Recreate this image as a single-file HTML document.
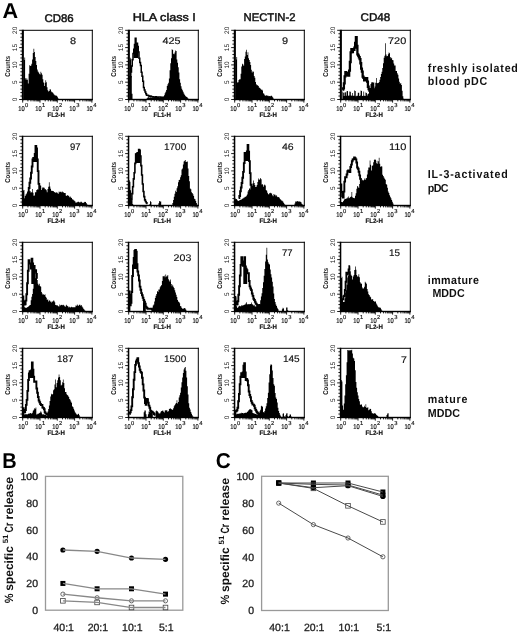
<!DOCTYPE html><html><head><meta charset="utf-8"><style>html,body{margin:0;padding:0;background:#fff;}svg{display:block;will-change:transform;text-rendering:geometricPrecision}</style></head><body>
<svg width="520" height="635" viewBox="0 0 520 635" font-family="Liberation Sans, sans-serif">
<rect width="520" height="635" fill="#fff"/>
<text x="2.6" y="18" font-size="21.6" font-weight="bold" fill="#000">A</text>
<text x="44.40" y="21.8" font-size="11.2" fill="#111" stroke="#111" stroke-width="0.45" textLength="29.30" lengthAdjust="spacingAndGlyphs">CD86</text>
<text x="132.70" y="21.4" font-size="11.2" fill="#111" stroke="#111" stroke-width="0.45" textLength="63.20" lengthAdjust="spacingAndGlyphs">HLA class I</text>
<text x="243.50" y="21.1" font-size="11.2" fill="#111" stroke="#111" stroke-width="0.45" textLength="52.00" lengthAdjust="spacingAndGlyphs">NECTIN-2</text>
<text x="360.50" y="20.9" font-size="11.2" fill="#111" stroke="#111" stroke-width="0.45" textLength="29.80" lengthAdjust="spacingAndGlyphs">CD48</text>
<text x="427.80" y="72.3" font-size="11.6" font-weight="bold" transform="translate(427.80,0) scale(0.92,1) translate(-427.80,0)" textLength="97.93" lengthAdjust="spacing" fill="#111">freshly isolated</text>
<text x="427.80" y="84.8" font-size="11.6" font-weight="bold" transform="translate(427.80,0) scale(0.92,1) translate(-427.80,0)" textLength="64.57" lengthAdjust="spacing" fill="#111">blood pDC</text>
<text x="427.80" y="177.7" font-size="11.6" font-weight="bold" transform="translate(427.80,0) scale(0.92,1) translate(-427.80,0)" textLength="86.85" lengthAdjust="spacing" fill="#111">IL-3-activated</text>
<text x="427.80" y="191.5" font-size="11.6" font-weight="bold" transform="translate(427.80,0) scale(0.92,1) translate(-427.80,0)" textLength="22.39" lengthAdjust="spacing" fill="#111">pDC</text>
<text x="427.80" y="283.8" font-size="11.6" font-weight="bold" transform="translate(427.80,0) scale(0.92,1) translate(-427.80,0)" textLength="55.54" lengthAdjust="spacing" fill="#111">immature</text>
<text x="432.40" y="297" font-size="11.6" font-weight="bold" transform="translate(432.40,0) scale(0.92,1) translate(-432.40,0)" textLength="35.00" lengthAdjust="spacing" fill="#111">MDDC</text>
<text x="427.80" y="403.2" font-size="11.6" font-weight="bold" transform="translate(427.80,0) scale(0.92,1) translate(-427.80,0)" textLength="43.04" lengthAdjust="spacing" fill="#111">mature</text>
<text x="427.80" y="416.5" font-size="11.6" font-weight="bold" transform="translate(427.80,0) scale(0.92,1) translate(-427.80,0)" textLength="34.89" lengthAdjust="spacing" fill="#111">MDDC</text>
<g><path d="M23.70,99.50V59.95H24.40V57.47H25.10V78.21H25.80V79.67H26.50V78.37H27.20V79.65H27.90V83.53H28.60V73.71H29.30V65.17H30.00V65.96H30.70V65.59H31.40V63.87H32.10V59.44H32.80V53.00H33.50V48.63H34.20V52.05H34.90V56.89H35.60V60.96H36.30V65.12H37.00V69.60H37.70V71.62H38.40V72.49H39.10V73.64H39.80V74.43H40.50V71.83H41.20V73.27H41.90V74.73H42.60V79.33H43.30V82.62H44.00V85.90H44.70V82.80H45.40V80.16H46.10V82.15H46.80V87.15H47.50V90.36H48.20V91.52H48.90V91.09H49.60V89.29H50.30V89.47H51.00V91.43H51.70V92.19H52.40V92.38H53.10V93.52H53.80V94.43H54.50V95.13H55.20V95.60H55.90V95.49H56.60V95.97H57.30V97.37H58.00V98.55H58.70V99.50Z" fill="#000"/><rect x="21.8" y="29.8" width="2.1" height="70.4" fill="#000"/><rect x="22" y="29.8" width="70.8" height="1" fill="#000"/><rect x="91.8" y="29.8" width="1" height="70.4" fill="#000"/><rect x="22" y="98.8" width="70.8" height="1.4" fill="#000"/><path d="M19.20,99.50H22M20.40,96.04H22M20.40,92.58H22M20.40,89.12H22M20.40,85.66H22M19.20,82.20H22M20.40,78.74H22M20.40,75.28H22M20.40,71.82H22M20.40,68.36H22M19.20,64.90H22M20.40,61.44H22M20.40,57.98H22M20.40,54.52H22M20.40,51.06H22M19.20,47.60H22M20.40,44.14H22M20.40,40.68H22M20.40,37.22H22M20.40,33.76H22M19.20,30.30H22M22.70,100V102.60M27.91,100V101.40M30.95,100V101.40M33.12,100V101.40M34.79,100V101.40M36.16,100V101.40M37.32,100V101.40M38.32,100V101.40M39.21,100V101.40M40.00,100V102.60M45.21,100V101.40M48.25,100V101.40M50.42,100V101.40M52.09,100V101.40M53.46,100V101.40M54.62,100V101.40M55.62,100V101.40M56.51,100V101.40M57.30,100V102.60M62.51,100V101.40M65.55,100V101.40M67.72,100V101.40M69.39,100V101.40M70.76,100V101.40M71.92,100V101.40M72.92,100V101.40M73.81,100V101.40M74.60,100V102.60M79.81,100V101.40M82.85,100V101.40M85.02,100V101.40M86.69,100V101.40M88.06,100V101.40M89.22,100V101.40M90.22,100V101.40M91.11,100V101.40M91.90,100V102.60" stroke="#000" stroke-width="0.9" fill="none"/><text transform="translate(16.8,99.50) rotate(-90)" text-anchor="middle" font-size="6.5" fill="#111">0</text><text transform="translate(16.8,82.20) rotate(-90)" text-anchor="middle" font-size="6.5" fill="#111">5</text><text transform="translate(16.8,64.90) rotate(-90)" text-anchor="middle" font-size="6.5" fill="#111">10</text><text transform="translate(16.8,47.60) rotate(-90)" text-anchor="middle" font-size="6.5" fill="#111">15</text><text transform="translate(16.8,30.30) rotate(-90)" text-anchor="middle" font-size="6.5" fill="#111">20</text><text transform="translate(9.8,66.4) rotate(-90)" text-anchor="middle" font-size="7" font-weight="bold" textLength="20.8" lengthAdjust="spacingAndGlyphs" fill="#111">Counts</text><text x="24.60" y="110.7" text-anchor="end" font-size="7" fill="#111" stroke="#111" stroke-width="0.2" textLength="6.4" lengthAdjust="spacingAndGlyphs">10</text><text x="25.00" y="106.5" font-size="5.8" fill="#111" stroke="#111" stroke-width="0.15">0</text><text x="41.65" y="110.7" text-anchor="end" font-size="7" fill="#111" stroke="#111" stroke-width="0.2" textLength="6.4" lengthAdjust="spacingAndGlyphs">10</text><text x="42.05" y="106.5" font-size="5.8" fill="#111" stroke="#111" stroke-width="0.15">1</text><text x="58.70" y="110.7" text-anchor="end" font-size="7" fill="#111" stroke="#111" stroke-width="0.2" textLength="6.4" lengthAdjust="spacingAndGlyphs">10</text><text x="59.10" y="106.5" font-size="5.8" fill="#111" stroke="#111" stroke-width="0.15">2</text><text x="75.75" y="110.7" text-anchor="end" font-size="7" fill="#111" stroke="#111" stroke-width="0.2" textLength="6.4" lengthAdjust="spacingAndGlyphs">10</text><text x="76.15" y="106.5" font-size="5.8" fill="#111" stroke="#111" stroke-width="0.15">3</text><text x="92.80" y="110.7" text-anchor="end" font-size="7" fill="#111" stroke="#111" stroke-width="0.2" textLength="6.4" lengthAdjust="spacingAndGlyphs">10</text><text x="93.20" y="106.5" font-size="5.8" fill="#111" stroke="#111" stroke-width="0.15">4</text><text x="47.5" y="116.7" font-size="6.5" font-weight="bold" stroke="#111" stroke-width="0.2" textLength="17.3" lengthAdjust="spacingAndGlyphs" fill="#111">FL2-H</text><text x="69.90" y="43.60" font-size="9.6" fill="#111" stroke="#111" stroke-width="0.15" textLength="6.10" lengthAdjust="spacingAndGlyphs">8</text></g>
<g><path d="M129.70,99.50V59.62H130.40V57.76H131.10V76.12H131.80V93.79H132.50V99.09H133.20V99.50ZM145.80,99.50V99.32H146.50V98.57H147.20V97.83H147.90V96.92H148.60V97.45H149.30V97.56H150.00V97.32H150.70V97.50H151.40V97.68H152.10V97.28H152.80V97.22H153.50V97.21H154.20V96.68H154.90V96.70H155.60V96.95H156.30V97.25H157.00V97.63H157.70V97.51H158.40V97.49H159.10V97.47H159.80V97.17H160.50V97.29H161.20V97.31H161.90V97.32H162.60V96.77H163.30V96.52H164.00V95.30H164.70V93.24H165.40V91.81H166.10V89.89H166.80V85.97H167.50V84.23H168.20V82.67H168.90V78.38H169.60V70.24H170.30V63.20H171.00V58.32H171.70V49.30H172.40V50.09H173.10V53.63H173.80V54.30H174.50V52.59H175.20V50.48H175.90V50.88H176.60V59.48H177.30V62.69H178.00V67.14H178.70V72.46H179.40V79.14H180.10V82.84H180.80V86.14H181.50V88.81H182.20V90.31H182.90V91.71H183.60V93.52H184.30V94.74H185.00V95.63H185.70V96.45H186.40V96.97H187.10V97.58H187.80V98.38H188.50V99.28H189.20V99.50Z" fill="#000"/><clipPath id="cp01"><rect x="133.5" y="30" width="5.0" height="28"/></clipPath><path d="M128.50,88.65H129.25V82.06H130.00V76.82H130.75V72.12H131.50V65.88H132.25V59.76H133.00V53.47H133.75V49.34H134.50V44.57H135.25V38.23H136.00V46.31H136.75V43.25H137.50V46.44H138.25V52.02H139.00V58.37H139.75V62.54H140.50V65.40H141.25V72.34H142.00V76.18H142.75V81.36H143.50V87.48H144.25V89.96H145.00V91.89H145.75V93.68H146.50V95.21H147.25V95.36H148.00V95.56H148.75V95.91H149.50V96.31H150.25V96.11H151.00V96.56H151.75V96.68H152.50V96.67H153.25V96.93H154.00V97.05H154.75V97.01H155.50V96.82H156.25V97.20H157.00V97.12H157.75V97.20H158.50V96.89H159.25V97.03H160.00V97.02H160.75V97.38H161.50V97.27H162.25V97.30H163.00V97.47H163.75V99.5H128.5Z" fill="#000" clip-path="url(#cp01)"/><path d="M128.50,88.65H129.25V82.06H130.00V76.82H130.75V72.12H131.50V65.88H132.25V59.76H133.00V53.47H133.75V49.34H134.50V44.57H135.25V38.23H136.00V46.31H136.75V43.25H137.50V46.44H138.25V52.02H139.00V58.37H139.75V62.54H140.50V65.40H141.25V72.34H142.00V76.18H142.75V81.36H143.50V87.48H144.25V89.96H145.00V91.89H145.75V93.68H146.50V95.21H147.25V95.36H148.00V95.56H148.75V95.91H149.50V96.31H150.25V96.11H151.00V96.56H151.75V96.68H152.50V96.67H153.25V96.93H154.00V97.05H154.75V97.01H155.50V96.82H156.25V97.20H157.00V97.12H157.75V97.20H158.50V96.89H159.25V97.03H160.00V97.02H160.75V97.38H161.50V97.27H162.25V97.30H163.00V97.47H163.75" fill="none" stroke="#000" stroke-width="1.5"/><rect x="127.8" y="29.8" width="2.1" height="70.4" fill="#000"/><rect x="128" y="29.8" width="70.8" height="1" fill="#000"/><rect x="197.8" y="29.8" width="1" height="70.4" fill="#000"/><rect x="128" y="98.8" width="70.8" height="1.4" fill="#000"/><path d="M125.20,99.50H128M126.40,96.04H128M126.40,92.58H128M126.40,89.12H128M126.40,85.66H128M125.20,82.20H128M126.40,78.74H128M126.40,75.28H128M126.40,71.82H128M126.40,68.36H128M125.20,64.90H128M126.40,61.44H128M126.40,57.98H128M126.40,54.52H128M126.40,51.06H128M125.20,47.60H128M126.40,44.14H128M126.40,40.68H128M126.40,37.22H128M126.40,33.76H128M125.20,30.30H128M128.70,100V102.60M133.91,100V101.40M136.95,100V101.40M139.12,100V101.40M140.79,100V101.40M142.16,100V101.40M143.32,100V101.40M144.32,100V101.40M145.21,100V101.40M146.00,100V102.60M151.21,100V101.40M154.25,100V101.40M156.42,100V101.40M158.09,100V101.40M159.46,100V101.40M160.62,100V101.40M161.62,100V101.40M162.51,100V101.40M163.30,100V102.60M168.51,100V101.40M171.55,100V101.40M173.72,100V101.40M175.39,100V101.40M176.76,100V101.40M177.92,100V101.40M178.92,100V101.40M179.81,100V101.40M180.60,100V102.60M185.81,100V101.40M188.85,100V101.40M191.02,100V101.40M192.69,100V101.40M194.06,100V101.40M195.22,100V101.40M196.22,100V101.40M197.11,100V101.40M197.90,100V102.60" stroke="#000" stroke-width="0.9" fill="none"/><text transform="translate(122.8,99.50) rotate(-90)" text-anchor="middle" font-size="6.5" fill="#111">0</text><text transform="translate(122.8,82.20) rotate(-90)" text-anchor="middle" font-size="6.5" fill="#111">5</text><text transform="translate(122.8,64.90) rotate(-90)" text-anchor="middle" font-size="6.5" fill="#111">10</text><text transform="translate(122.8,47.60) rotate(-90)" text-anchor="middle" font-size="6.5" fill="#111">15</text><text transform="translate(122.8,30.30) rotate(-90)" text-anchor="middle" font-size="6.5" fill="#111">20</text><text transform="translate(115.8,66.4) rotate(-90)" text-anchor="middle" font-size="7" font-weight="bold" textLength="20.8" lengthAdjust="spacingAndGlyphs" fill="#111">Counts</text><text x="130.60" y="110.7" text-anchor="end" font-size="7" fill="#111" stroke="#111" stroke-width="0.2" textLength="6.4" lengthAdjust="spacingAndGlyphs">10</text><text x="131.00" y="106.5" font-size="5.8" fill="#111" stroke="#111" stroke-width="0.15">0</text><text x="147.65" y="110.7" text-anchor="end" font-size="7" fill="#111" stroke="#111" stroke-width="0.2" textLength="6.4" lengthAdjust="spacingAndGlyphs">10</text><text x="148.05" y="106.5" font-size="5.8" fill="#111" stroke="#111" stroke-width="0.15">1</text><text x="164.70" y="110.7" text-anchor="end" font-size="7" fill="#111" stroke="#111" stroke-width="0.2" textLength="6.4" lengthAdjust="spacingAndGlyphs">10</text><text x="165.10" y="106.5" font-size="5.8" fill="#111" stroke="#111" stroke-width="0.15">2</text><text x="181.75" y="110.7" text-anchor="end" font-size="7" fill="#111" stroke="#111" stroke-width="0.2" textLength="6.4" lengthAdjust="spacingAndGlyphs">10</text><text x="182.15" y="106.5" font-size="5.8" fill="#111" stroke="#111" stroke-width="0.15">3</text><text x="198.80" y="110.7" text-anchor="end" font-size="7" fill="#111" stroke="#111" stroke-width="0.2" textLength="6.4" lengthAdjust="spacingAndGlyphs">10</text><text x="199.20" y="106.5" font-size="5.8" fill="#111" stroke="#111" stroke-width="0.15">4</text><text x="153.5" y="116.7" font-size="6.5" font-weight="bold" stroke="#111" stroke-width="0.2" textLength="17.3" lengthAdjust="spacingAndGlyphs" fill="#111">FL1-H</text><text x="162.60" y="43.60" font-size="9.6" fill="#111" stroke="#111" stroke-width="0.15" textLength="18.00" lengthAdjust="spacingAndGlyphs">425</text></g>
<g><path d="M235.70,99.50V59.48H236.40V56.92H237.10V82.49H237.80V82.27H238.50V80.08H239.20V79.24H239.90V79.32H240.60V73.66H241.30V66.43H242.00V63.83H242.70V64.60H243.40V65.64H244.10V59.12H244.80V56.55H245.50V51.71H246.20V49.67H246.90V54.89H247.60V52.26H248.30V58.35H249.00V60.06H249.70V62.11H250.40V65.00H251.10V69.82H251.80V72.47H252.50V71.36H253.20V71.74H253.90V75.98H254.60V77.67H255.30V82.03H256.00V84.35H256.70V85.24H257.40V85.13H258.10V85.99H258.80V87.58H259.50V87.93H260.20V88.65H260.90V89.80H261.60V89.48H262.30V90.50H263.00V93.32H263.70V93.71H264.40V95.14H265.10V95.80H265.80V95.56H266.50V95.37H267.20V95.69H267.90V95.86H268.60V96.33H269.30V95.94H270.00V96.18H270.70V95.68H271.40V95.83H272.10V96.85H272.80V97.65H273.50V99.21H274.20V99.50Z" fill="#000"/><rect x="233.8" y="29.8" width="2.1" height="70.4" fill="#000"/><rect x="234" y="29.8" width="70.8" height="1" fill="#000"/><rect x="303.8" y="29.8" width="1" height="70.4" fill="#000"/><rect x="234" y="98.8" width="70.8" height="1.4" fill="#000"/><path d="M231.20,99.50H234M232.40,96.04H234M232.40,92.58H234M232.40,89.12H234M232.40,85.66H234M231.20,82.20H234M232.40,78.74H234M232.40,75.28H234M232.40,71.82H234M232.40,68.36H234M231.20,64.90H234M232.40,61.44H234M232.40,57.98H234M232.40,54.52H234M232.40,51.06H234M231.20,47.60H234M232.40,44.14H234M232.40,40.68H234M232.40,37.22H234M232.40,33.76H234M231.20,30.30H234M234.70,100V102.60M239.91,100V101.40M242.95,100V101.40M245.12,100V101.40M246.79,100V101.40M248.16,100V101.40M249.32,100V101.40M250.32,100V101.40M251.21,100V101.40M252.00,100V102.60M257.21,100V101.40M260.25,100V101.40M262.42,100V101.40M264.09,100V101.40M265.46,100V101.40M266.62,100V101.40M267.62,100V101.40M268.51,100V101.40M269.30,100V102.60M274.51,100V101.40M277.55,100V101.40M279.72,100V101.40M281.39,100V101.40M282.76,100V101.40M283.92,100V101.40M284.92,100V101.40M285.81,100V101.40M286.60,100V102.60M291.81,100V101.40M294.85,100V101.40M297.02,100V101.40M298.69,100V101.40M300.06,100V101.40M301.22,100V101.40M302.22,100V101.40M303.11,100V101.40M303.90,100V102.60" stroke="#000" stroke-width="0.9" fill="none"/><text transform="translate(228.8,99.50) rotate(-90)" text-anchor="middle" font-size="6.5" fill="#111">0</text><text transform="translate(228.8,82.20) rotate(-90)" text-anchor="middle" font-size="6.5" fill="#111">5</text><text transform="translate(228.8,64.90) rotate(-90)" text-anchor="middle" font-size="6.5" fill="#111">10</text><text transform="translate(228.8,47.60) rotate(-90)" text-anchor="middle" font-size="6.5" fill="#111">15</text><text transform="translate(228.8,30.30) rotate(-90)" text-anchor="middle" font-size="6.5" fill="#111">20</text><text transform="translate(221.8,66.4) rotate(-90)" text-anchor="middle" font-size="7" font-weight="bold" textLength="20.8" lengthAdjust="spacingAndGlyphs" fill="#111">Counts</text><text x="236.60" y="110.7" text-anchor="end" font-size="7" fill="#111" stroke="#111" stroke-width="0.2" textLength="6.4" lengthAdjust="spacingAndGlyphs">10</text><text x="237.00" y="106.5" font-size="5.8" fill="#111" stroke="#111" stroke-width="0.15">0</text><text x="253.65" y="110.7" text-anchor="end" font-size="7" fill="#111" stroke="#111" stroke-width="0.2" textLength="6.4" lengthAdjust="spacingAndGlyphs">10</text><text x="254.05" y="106.5" font-size="5.8" fill="#111" stroke="#111" stroke-width="0.15">1</text><text x="270.70" y="110.7" text-anchor="end" font-size="7" fill="#111" stroke="#111" stroke-width="0.2" textLength="6.4" lengthAdjust="spacingAndGlyphs">10</text><text x="271.10" y="106.5" font-size="5.8" fill="#111" stroke="#111" stroke-width="0.15">2</text><text x="287.75" y="110.7" text-anchor="end" font-size="7" fill="#111" stroke="#111" stroke-width="0.2" textLength="6.4" lengthAdjust="spacingAndGlyphs">10</text><text x="288.15" y="106.5" font-size="5.8" fill="#111" stroke="#111" stroke-width="0.15">3</text><text x="304.80" y="110.7" text-anchor="end" font-size="7" fill="#111" stroke="#111" stroke-width="0.2" textLength="6.4" lengthAdjust="spacingAndGlyphs">10</text><text x="305.20" y="106.5" font-size="5.8" fill="#111" stroke="#111" stroke-width="0.15">4</text><text x="259.5" y="116.7" font-size="6.5" font-weight="bold" stroke="#111" stroke-width="0.2" textLength="17.3" lengthAdjust="spacingAndGlyphs" fill="#111">FL2-H</text><text x="281.90" y="43.60" font-size="9.6" fill="#111" stroke="#111" stroke-width="0.15" textLength="6.10" lengthAdjust="spacingAndGlyphs">9</text></g>
<g><path d="M342.40,99.50V91.61H343.10V92.67H343.80V96.10H344.50V92.38H345.20V92.37H345.90V95.84H346.60V91.29H347.30V90.90H348.00V95.75H348.70V95.57H349.40V91.51H350.10V91.73H350.80V95.60H351.50V95.74H352.20V93.00H352.90V95.83H353.60V95.86H354.30V90.54H355.00V91.01H355.70V96.13H356.40V95.65H357.10V95.87H357.80V92.79H358.50V92.79H359.20V96.05H359.90V95.57H360.60V90.39H361.30V90.94H362.00V96.00H362.70V95.85H363.40V91.54H364.10V95.87H364.80V96.06H365.50V92.58H366.20V92.95H366.90V95.40H367.60V94.06H368.30V93.48H369.00V93.11H369.70V89.89H370.40V88.40H371.10V84.39H371.80V82.00H372.50V86.29H373.20V89.84H373.90V88.27H374.60V86.54H375.30V82.84H376.00V78.09H376.70V83.00H377.40V83.13H378.10V82.95H378.80V82.08H379.50V79.78H380.20V76.91H380.90V73.97H381.60V71.74H382.30V68.03H383.00V63.19H383.70V57.64H384.40V55.74H385.10V43.27H385.80V54.38H386.50V56.21H387.20V56.10H387.90V54.27H388.60V52.60H389.30V53.18H390.00V57.07H390.70V58.61H391.40V57.76H392.10V60.06H392.80V60.19H393.50V63.41H394.20V65.49H394.90V65.60H395.60V71.00H396.30V70.97H397.00V73.29H397.70V74.83H398.40V78.58H399.10V81.71H399.80V83.68H400.50V83.08H401.20V85.01H401.90V90.72H402.60V96.37H403.30V98.64H404.00V99.50Z" fill="#000"/><path d="M342.40,89.68H343.15V88.43H343.90V83.31H344.65V76.35H345.40V72.10H346.15V75.44H346.90V72.97H347.65V75.25H348.40V75.61H349.15V70.71H349.90V62.02H350.65V52.46H351.40V49.10H352.15V52.13H352.90V49.68H353.65V49.85H354.40V47.64H355.15V42.80H355.90V37.03H356.65V45.78H357.40V54.29H358.15V55.65H358.90V57.25H359.65V59.16H360.40V63.24H361.15V68.70H361.90V71.68H362.65V76.60H363.40V77.88H364.15V80.36H364.90V79.74H365.65V78.51H366.40V78.24H367.15V81.61H367.90V86.73H368.65V89.10H369.40V90.72H370.15V92.79H370.90V89.39H371.65V85.11H372.40V83.61H373.15V90.18H373.90V90.58H374.65V90.36H375.40V92.32H376.15" fill="none" stroke="#000" stroke-width="2.3"/><rect x="339.8" y="29.8" width="2.1" height="70.4" fill="#000"/><rect x="340" y="29.8" width="70.8" height="1" fill="#000"/><rect x="409.8" y="29.8" width="1" height="70.4" fill="#000"/><rect x="340" y="98.8" width="70.8" height="1.4" fill="#000"/><path d="M337.20,99.50H340M338.40,96.04H340M338.40,92.58H340M338.40,89.12H340M338.40,85.66H340M337.20,82.20H340M338.40,78.74H340M338.40,75.28H340M338.40,71.82H340M338.40,68.36H340M337.20,64.90H340M338.40,61.44H340M338.40,57.98H340M338.40,54.52H340M338.40,51.06H340M337.20,47.60H340M338.40,44.14H340M338.40,40.68H340M338.40,37.22H340M338.40,33.76H340M337.20,30.30H340M340.70,100V102.60M345.91,100V101.40M348.95,100V101.40M351.12,100V101.40M352.79,100V101.40M354.16,100V101.40M355.32,100V101.40M356.32,100V101.40M357.21,100V101.40M358.00,100V102.60M363.21,100V101.40M366.25,100V101.40M368.42,100V101.40M370.09,100V101.40M371.46,100V101.40M372.62,100V101.40M373.62,100V101.40M374.51,100V101.40M375.30,100V102.60M380.51,100V101.40M383.55,100V101.40M385.72,100V101.40M387.39,100V101.40M388.76,100V101.40M389.92,100V101.40M390.92,100V101.40M391.81,100V101.40M392.60,100V102.60M397.81,100V101.40M400.85,100V101.40M403.02,100V101.40M404.69,100V101.40M406.06,100V101.40M407.22,100V101.40M408.22,100V101.40M409.11,100V101.40M409.90,100V102.60" stroke="#000" stroke-width="0.9" fill="none"/><text transform="translate(334.8,99.50) rotate(-90)" text-anchor="middle" font-size="6.5" fill="#111">0</text><text transform="translate(334.8,82.20) rotate(-90)" text-anchor="middle" font-size="6.5" fill="#111">5</text><text transform="translate(334.8,64.90) rotate(-90)" text-anchor="middle" font-size="6.5" fill="#111">10</text><text transform="translate(334.8,47.60) rotate(-90)" text-anchor="middle" font-size="6.5" fill="#111">15</text><text transform="translate(334.8,30.30) rotate(-90)" text-anchor="middle" font-size="6.5" fill="#111">20</text><text transform="translate(327.8,66.4) rotate(-90)" text-anchor="middle" font-size="7" font-weight="bold" textLength="20.8" lengthAdjust="spacingAndGlyphs" fill="#111">Counts</text><text x="342.60" y="110.7" text-anchor="end" font-size="7" fill="#111" stroke="#111" stroke-width="0.2" textLength="6.4" lengthAdjust="spacingAndGlyphs">10</text><text x="343.00" y="106.5" font-size="5.8" fill="#111" stroke="#111" stroke-width="0.15">0</text><text x="359.65" y="110.7" text-anchor="end" font-size="7" fill="#111" stroke="#111" stroke-width="0.2" textLength="6.4" lengthAdjust="spacingAndGlyphs">10</text><text x="360.05" y="106.5" font-size="5.8" fill="#111" stroke="#111" stroke-width="0.15">1</text><text x="376.70" y="110.7" text-anchor="end" font-size="7" fill="#111" stroke="#111" stroke-width="0.2" textLength="6.4" lengthAdjust="spacingAndGlyphs">10</text><text x="377.10" y="106.5" font-size="5.8" fill="#111" stroke="#111" stroke-width="0.15">2</text><text x="393.75" y="110.7" text-anchor="end" font-size="7" fill="#111" stroke="#111" stroke-width="0.2" textLength="6.4" lengthAdjust="spacingAndGlyphs">10</text><text x="394.15" y="106.5" font-size="5.8" fill="#111" stroke="#111" stroke-width="0.15">3</text><text x="410.80" y="110.7" text-anchor="end" font-size="7" fill="#111" stroke="#111" stroke-width="0.2" textLength="6.4" lengthAdjust="spacingAndGlyphs">10</text><text x="411.20" y="106.5" font-size="5.8" fill="#111" stroke="#111" stroke-width="0.15">4</text><text x="365.5" y="116.7" font-size="6.5" font-weight="bold" stroke="#111" stroke-width="0.2" textLength="17.3" lengthAdjust="spacingAndGlyphs" fill="#111">FL2-H</text><text x="388.00" y="43.60" font-size="9.6" fill="#111" stroke="#111" stroke-width="0.15" textLength="18.20" lengthAdjust="spacingAndGlyphs">720</text></g>
<g><path d="M23.00,205.50V190.50H23.70V189.98H24.40V198.35H25.10V196.89H25.80V197.18H26.50V195.27H27.20V195.27H27.90V193.41H28.60V191.69H29.30V191.03H30.00V191.32H30.70V192.67H31.40V191.96H32.10V189.06H32.80V192.63H33.50V195.70H34.20V195.41H34.90V192.21H35.60V192.13H36.30V189.98H37.00V189.23H37.70V189.73H38.40V189.51H39.10V186.42H39.80V185.31H40.50V185.78H41.20V189.98H41.90V188.27H42.60V187.09H43.30V187.80H44.00V187.83H44.70V189.25H45.40V189.33H46.10V190.18H46.80V192.26H47.50V189.10H48.20V186.65H48.90V182.14H49.60V186.45H50.30V188.63H51.00V190.82H51.70V190.67H52.40V190.95H53.10V190.93H53.80V191.95H54.50V192.36H55.20V192.67H55.90V192.56H56.60V192.33H57.30V193.23H58.00V193.66H58.70V191.59H59.40V192.15H60.10V191.70H60.80V191.75H61.50V192.51H62.20V191.52H62.90V191.99H63.60V192.99H64.30V193.12H65.00V193.06H65.70V195.54H66.40V196.10H67.10V194.93H67.80V195.77H68.50V195.68H69.20V197.25H69.90V196.53H70.60V197.54H71.30V197.90H72.00V199.35H72.70V199.58H73.40V200.33H74.10V200.83H74.80V201.61H75.50V202.71H76.20V202.47H76.90V202.26H77.60V201.72H78.30V201.80H79.00V202.28H79.70V202.42H80.40V201.70H81.10V201.82H81.80V202.39H82.50V203.10H83.20V202.68H83.90V202.28H84.60V201.69H85.30V201.94H86.00V202.91H86.70V204.19H87.40V205.17H88.10V205.50Z" fill="#000"/><clipPath id="cp10"><rect x="32" y="136" width="5" height="26"/></clipPath><path d="M25.00,197.90H25.75V196.90H26.50V195.44H27.25V194.36H28.00V192.39H28.75V187.98H29.50V182.75H30.25V178.46H31.00V172.71H31.75V166.55H32.50V159.37H33.25V157.96H34.00V160.86H34.75V154.00H35.50V146.01H36.25V148.57H37.00V159.54H37.75V171.13H38.50V183.85H39.25V190.46H40.00V193.08H40.75V205.5H25Z" fill="#000" clip-path="url(#cp10)"/><path d="M25.00,197.90H25.75V196.90H26.50V195.44H27.25V194.36H28.00V192.39H28.75V187.98H29.50V182.75H30.25V178.46H31.00V172.71H31.75V166.55H32.50V159.37H33.25V157.96H34.00V160.86H34.75V154.00H35.50V146.01H36.25V148.57H37.00V159.54H37.75V171.13H38.50V183.85H39.25V190.46H40.00V193.08H40.75" fill="none" stroke="#000" stroke-width="1.9"/><rect x="21.8" y="135.8" width="1.5" height="70.4" fill="#000"/><rect x="22" y="135.8" width="70.8" height="1" fill="#000"/><rect x="91.8" y="135.8" width="1" height="70.4" fill="#000"/><rect x="22" y="204.8" width="70.8" height="1.4" fill="#000"/><path d="M19.20,205.50H22M20.40,202.04H22M20.40,198.58H22M20.40,195.12H22M20.40,191.66H22M19.20,188.20H22M20.40,184.74H22M20.40,181.28H22M20.40,177.82H22M20.40,174.36H22M19.20,170.90H22M20.40,167.44H22M20.40,163.98H22M20.40,160.52H22M20.40,157.06H22M19.20,153.60H22M20.40,150.14H22M20.40,146.68H22M20.40,143.22H22M20.40,139.76H22M19.20,136.30H22M22.70,206V208.60M27.91,206V207.40M30.95,206V207.40M33.12,206V207.40M34.79,206V207.40M36.16,206V207.40M37.32,206V207.40M38.32,206V207.40M39.21,206V207.40M40.00,206V208.60M45.21,206V207.40M48.25,206V207.40M50.42,206V207.40M52.09,206V207.40M53.46,206V207.40M54.62,206V207.40M55.62,206V207.40M56.51,206V207.40M57.30,206V208.60M62.51,206V207.40M65.55,206V207.40M67.72,206V207.40M69.39,206V207.40M70.76,206V207.40M71.92,206V207.40M72.92,206V207.40M73.81,206V207.40M74.60,206V208.60M79.81,206V207.40M82.85,206V207.40M85.02,206V207.40M86.69,206V207.40M88.06,206V207.40M89.22,206V207.40M90.22,206V207.40M91.11,206V207.40M91.90,206V208.60" stroke="#000" stroke-width="0.9" fill="none"/><text transform="translate(16.8,205.50) rotate(-90)" text-anchor="middle" font-size="6.5" fill="#111">0</text><text transform="translate(16.8,188.20) rotate(-90)" text-anchor="middle" font-size="6.5" fill="#111">5</text><text transform="translate(16.8,170.90) rotate(-90)" text-anchor="middle" font-size="6.5" fill="#111">10</text><text transform="translate(16.8,153.60) rotate(-90)" text-anchor="middle" font-size="6.5" fill="#111">15</text><text transform="translate(16.8,136.30) rotate(-90)" text-anchor="middle" font-size="6.5" fill="#111">20</text><text transform="translate(9.8,172.4) rotate(-90)" text-anchor="middle" font-size="7" font-weight="bold" textLength="20.8" lengthAdjust="spacingAndGlyphs" fill="#111">Counts</text><text x="24.60" y="216.7" text-anchor="end" font-size="7" fill="#111" stroke="#111" stroke-width="0.2" textLength="6.4" lengthAdjust="spacingAndGlyphs">10</text><text x="25.00" y="212.5" font-size="5.8" fill="#111" stroke="#111" stroke-width="0.15">0</text><text x="41.65" y="216.7" text-anchor="end" font-size="7" fill="#111" stroke="#111" stroke-width="0.2" textLength="6.4" lengthAdjust="spacingAndGlyphs">10</text><text x="42.05" y="212.5" font-size="5.8" fill="#111" stroke="#111" stroke-width="0.15">1</text><text x="58.70" y="216.7" text-anchor="end" font-size="7" fill="#111" stroke="#111" stroke-width="0.2" textLength="6.4" lengthAdjust="spacingAndGlyphs">10</text><text x="59.10" y="212.5" font-size="5.8" fill="#111" stroke="#111" stroke-width="0.15">2</text><text x="75.75" y="216.7" text-anchor="end" font-size="7" fill="#111" stroke="#111" stroke-width="0.2" textLength="6.4" lengthAdjust="spacingAndGlyphs">10</text><text x="76.15" y="212.5" font-size="5.8" fill="#111" stroke="#111" stroke-width="0.15">3</text><text x="92.80" y="216.7" text-anchor="end" font-size="7" fill="#111" stroke="#111" stroke-width="0.2" textLength="6.4" lengthAdjust="spacingAndGlyphs">10</text><text x="93.20" y="212.5" font-size="5.8" fill="#111" stroke="#111" stroke-width="0.15">4</text><text x="47.5" y="222.7" font-size="6.5" font-weight="bold" stroke="#111" stroke-width="0.2" textLength="17.3" lengthAdjust="spacingAndGlyphs" fill="#111">FL2-H</text><text x="69.90" y="149.60" font-size="9.6" fill="#111" stroke="#111" stroke-width="0.15" textLength="10.60" lengthAdjust="spacingAndGlyphs">97</text></g>
<g><path d="M129.00,205.50V180.28H129.70V181.87H130.40V190.24H131.10V200.77H131.80V200.06H132.50V203.91H133.20V205.50ZM149.30,205.50V204.17H150.00V201.07H150.70V202.00H151.40V205.50ZM158.40,205.50V203.30H159.10V201.01H159.80V201.61H160.50V201.53H161.20V205.50ZM171.70,205.50V205.35H172.40V202.93H173.10V200.06H173.80V196.76H174.50V193.68H175.20V190.81H175.90V192.00H176.60V188.29H177.30V186.20H178.00V182.29H178.70V180.08H179.40V179.63H180.10V177.16H180.80V175.19H181.50V169.48H182.20V168.61H182.90V164.42H183.60V161.61H184.30V160.69H185.00V159.94H185.70V161.98H186.40V161.76H187.10V161.43H187.80V168.53H188.50V175.90H189.20V181.25H189.90V188.38H190.60V189.28H191.30V192.13H192.00V192.94H192.70V194.37H193.40V195.89H194.10V198.67H194.80V199.19H195.50V201.02H196.20V203.03H196.90V204.69H197.60V205.50Z" fill="#000"/><clipPath id="cp11"><rect x="134.5" y="136" width="6.0" height="27"/></clipPath><path d="M128.90,195.41H129.65V199.18H130.40V201.03H131.15V199.11H131.90V193.59H132.65V186.74H133.40V178.87H134.15V172.82H134.90V163.42H135.65V154.07H136.40V153.89H137.15V152.83H137.90V153.70H138.65V149.49H139.40V150.34H140.15V156.05H140.90V165.62H141.65V175.06H142.40V183.99H143.15V191.53H143.90V196.63H144.65V199.86H145.40V201.48H146.15V202.69H146.90V203.46H147.65V205.5H128.9Z" fill="#000" clip-path="url(#cp11)"/><path d="M128.90,195.41H129.65V199.18H130.40V201.03H131.15V199.11H131.90V193.59H132.65V186.74H133.40V178.87H134.15V172.82H134.90V163.42H135.65V154.07H136.40V153.89H137.15V152.83H137.90V153.70H138.65V149.49H139.40V150.34H140.15V156.05H140.90V165.62H141.65V175.06H142.40V183.99H143.15V191.53H143.90V196.63H144.65V199.86H145.40V201.48H146.15V202.69H146.90V203.46H147.65" fill="none" stroke="#000" stroke-width="1.6"/><rect x="127.8" y="135.8" width="1.5" height="70.4" fill="#000"/><rect x="128" y="135.8" width="70.8" height="1" fill="#000"/><rect x="197.8" y="135.8" width="1" height="70.4" fill="#000"/><rect x="128" y="204.8" width="70.8" height="1.4" fill="#000"/><path d="M125.20,205.50H128M126.40,202.04H128M126.40,198.58H128M126.40,195.12H128M126.40,191.66H128M125.20,188.20H128M126.40,184.74H128M126.40,181.28H128M126.40,177.82H128M126.40,174.36H128M125.20,170.90H128M126.40,167.44H128M126.40,163.98H128M126.40,160.52H128M126.40,157.06H128M125.20,153.60H128M126.40,150.14H128M126.40,146.68H128M126.40,143.22H128M126.40,139.76H128M125.20,136.30H128M128.70,206V208.60M133.91,206V207.40M136.95,206V207.40M139.12,206V207.40M140.79,206V207.40M142.16,206V207.40M143.32,206V207.40M144.32,206V207.40M145.21,206V207.40M146.00,206V208.60M151.21,206V207.40M154.25,206V207.40M156.42,206V207.40M158.09,206V207.40M159.46,206V207.40M160.62,206V207.40M161.62,206V207.40M162.51,206V207.40M163.30,206V208.60M168.51,206V207.40M171.55,206V207.40M173.72,206V207.40M175.39,206V207.40M176.76,206V207.40M177.92,206V207.40M178.92,206V207.40M179.81,206V207.40M180.60,206V208.60M185.81,206V207.40M188.85,206V207.40M191.02,206V207.40M192.69,206V207.40M194.06,206V207.40M195.22,206V207.40M196.22,206V207.40M197.11,206V207.40M197.90,206V208.60" stroke="#000" stroke-width="0.9" fill="none"/><text transform="translate(122.8,205.50) rotate(-90)" text-anchor="middle" font-size="6.5" fill="#111">0</text><text transform="translate(122.8,188.20) rotate(-90)" text-anchor="middle" font-size="6.5" fill="#111">5</text><text transform="translate(122.8,170.90) rotate(-90)" text-anchor="middle" font-size="6.5" fill="#111">10</text><text transform="translate(122.8,153.60) rotate(-90)" text-anchor="middle" font-size="6.5" fill="#111">15</text><text transform="translate(122.8,136.30) rotate(-90)" text-anchor="middle" font-size="6.5" fill="#111">20</text><text transform="translate(115.8,172.4) rotate(-90)" text-anchor="middle" font-size="7" font-weight="bold" textLength="20.8" lengthAdjust="spacingAndGlyphs" fill="#111">Counts</text><text x="130.60" y="216.7" text-anchor="end" font-size="7" fill="#111" stroke="#111" stroke-width="0.2" textLength="6.4" lengthAdjust="spacingAndGlyphs">10</text><text x="131.00" y="212.5" font-size="5.8" fill="#111" stroke="#111" stroke-width="0.15">0</text><text x="147.65" y="216.7" text-anchor="end" font-size="7" fill="#111" stroke="#111" stroke-width="0.2" textLength="6.4" lengthAdjust="spacingAndGlyphs">10</text><text x="148.05" y="212.5" font-size="5.8" fill="#111" stroke="#111" stroke-width="0.15">1</text><text x="164.70" y="216.7" text-anchor="end" font-size="7" fill="#111" stroke="#111" stroke-width="0.2" textLength="6.4" lengthAdjust="spacingAndGlyphs">10</text><text x="165.10" y="212.5" font-size="5.8" fill="#111" stroke="#111" stroke-width="0.15">2</text><text x="181.75" y="216.7" text-anchor="end" font-size="7" fill="#111" stroke="#111" stroke-width="0.2" textLength="6.4" lengthAdjust="spacingAndGlyphs">10</text><text x="182.15" y="212.5" font-size="5.8" fill="#111" stroke="#111" stroke-width="0.15">3</text><text x="198.80" y="216.7" text-anchor="end" font-size="7" fill="#111" stroke="#111" stroke-width="0.2" textLength="6.4" lengthAdjust="spacingAndGlyphs">10</text><text x="199.20" y="212.5" font-size="5.8" fill="#111" stroke="#111" stroke-width="0.15">4</text><text x="153.5" y="222.7" font-size="6.5" font-weight="bold" stroke="#111" stroke-width="0.2" textLength="17.3" lengthAdjust="spacingAndGlyphs" fill="#111">FL1-H</text><text x="164.00" y="149.60" font-size="9.6" fill="#111" stroke="#111" stroke-width="0.15" textLength="22.20" lengthAdjust="spacingAndGlyphs">1700</text></g>
<g><path d="M234.30,205.50V198.85H235.00V198.60H235.70V199.17H236.40V198.99H237.10V200.22H237.80V200.95H238.50V200.73H239.20V200.33H239.90V199.80H240.60V199.97H241.30V199.17H242.00V198.69H242.70V198.45H243.40V197.72H244.10V197.58H244.80V196.80H245.50V196.74H246.20V195.75H246.90V194.39H247.60V191.51H248.30V189.89H249.00V188.53H249.70V188.45H250.40V189.44H251.10V187.05H251.80V185.74H252.50V183.53H253.20V180.59H253.90V182.93H254.60V184.94H255.30V186.93H256.00V186.64H256.70V184.92H257.40V181.91H258.10V178.55H258.80V180.12H259.50V179.30H260.20V178.07H260.90V179.28H261.60V184.41H262.30V184.20H263.00V186.63H263.70V185.29H264.40V184.49H265.10V185.62H265.80V189.88H266.50V190.73H267.20V192.67H267.90V194.18H268.60V194.15H269.30V193.06H270.00V192.81H270.70V193.27H271.40V193.60H272.10V195.16H272.80V196.31H273.50V194.10H274.20V194.70H274.90V194.80H275.60V196.14H276.30V195.33H277.00V196.70H277.70V197.18H278.40V197.05H279.10V197.64H279.80V199.05H280.50V199.84H281.20V200.42H281.90V200.85H282.60V201.45H283.30V202.69H284.00V203.84H284.70V204.64H285.40V205.27H286.10V205.50ZM293.80,205.50V205.10H294.50V203.57H295.20V201.51H295.90V201.57H296.60V201.59H297.30V201.12H298.00V201.41H298.70V201.61H299.40V201.40H300.10V201.74H300.80V202.26H301.50V203.78H302.20V204.61H302.90V205.27H303.60V205.50Z" fill="#000"/><clipPath id="cp12"><rect x="244" y="136" width="5" height="25"/></clipPath><path d="M238.60,198.08H239.35V196.03H240.10V191.28H240.85V187.49H241.60V182.96H242.35V177.76H243.10V171.83H243.85V163.10H244.60V152.85H245.35V159.75H246.10V158.29H246.85V151.40H247.60V144.95H248.35V151.67H249.10V161.11H249.85V173.16H250.60V184.69H251.35V188.78H252.10V205.5H238.6Z" fill="#000" clip-path="url(#cp12)"/><path d="M238.60,198.08H239.35V196.03H240.10V191.28H240.85V187.49H241.60V182.96H242.35V177.76H243.10V171.83H243.85V163.10H244.60V152.85H245.35V159.75H246.10V158.29H246.85V151.40H247.60V144.95H248.35V151.67H249.10V161.11H249.85V173.16H250.60V184.69H251.35V188.78H252.10" fill="none" stroke="#000" stroke-width="1.9"/><rect x="233.8" y="135.8" width="1.5" height="70.4" fill="#000"/><rect x="234" y="135.8" width="70.8" height="1" fill="#000"/><rect x="303.8" y="135.8" width="1" height="70.4" fill="#000"/><rect x="234" y="204.8" width="70.8" height="1.4" fill="#000"/><path d="M231.20,205.50H234M232.40,202.04H234M232.40,198.58H234M232.40,195.12H234M232.40,191.66H234M231.20,188.20H234M232.40,184.74H234M232.40,181.28H234M232.40,177.82H234M232.40,174.36H234M231.20,170.90H234M232.40,167.44H234M232.40,163.98H234M232.40,160.52H234M232.40,157.06H234M231.20,153.60H234M232.40,150.14H234M232.40,146.68H234M232.40,143.22H234M232.40,139.76H234M231.20,136.30H234M234.70,206V208.60M239.91,206V207.40M242.95,206V207.40M245.12,206V207.40M246.79,206V207.40M248.16,206V207.40M249.32,206V207.40M250.32,206V207.40M251.21,206V207.40M252.00,206V208.60M257.21,206V207.40M260.25,206V207.40M262.42,206V207.40M264.09,206V207.40M265.46,206V207.40M266.62,206V207.40M267.62,206V207.40M268.51,206V207.40M269.30,206V208.60M274.51,206V207.40M277.55,206V207.40M279.72,206V207.40M281.39,206V207.40M282.76,206V207.40M283.92,206V207.40M284.92,206V207.40M285.81,206V207.40M286.60,206V208.60M291.81,206V207.40M294.85,206V207.40M297.02,206V207.40M298.69,206V207.40M300.06,206V207.40M301.22,206V207.40M302.22,206V207.40M303.11,206V207.40M303.90,206V208.60" stroke="#000" stroke-width="0.9" fill="none"/><text transform="translate(228.8,205.50) rotate(-90)" text-anchor="middle" font-size="6.5" fill="#111">0</text><text transform="translate(228.8,188.20) rotate(-90)" text-anchor="middle" font-size="6.5" fill="#111">5</text><text transform="translate(228.8,170.90) rotate(-90)" text-anchor="middle" font-size="6.5" fill="#111">10</text><text transform="translate(228.8,153.60) rotate(-90)" text-anchor="middle" font-size="6.5" fill="#111">15</text><text transform="translate(228.8,136.30) rotate(-90)" text-anchor="middle" font-size="6.5" fill="#111">20</text><text transform="translate(221.8,172.4) rotate(-90)" text-anchor="middle" font-size="7" font-weight="bold" textLength="20.8" lengthAdjust="spacingAndGlyphs" fill="#111">Counts</text><text x="236.60" y="216.7" text-anchor="end" font-size="7" fill="#111" stroke="#111" stroke-width="0.2" textLength="6.4" lengthAdjust="spacingAndGlyphs">10</text><text x="237.00" y="212.5" font-size="5.8" fill="#111" stroke="#111" stroke-width="0.15">0</text><text x="253.65" y="216.7" text-anchor="end" font-size="7" fill="#111" stroke="#111" stroke-width="0.2" textLength="6.4" lengthAdjust="spacingAndGlyphs">10</text><text x="254.05" y="212.5" font-size="5.8" fill="#111" stroke="#111" stroke-width="0.15">1</text><text x="270.70" y="216.7" text-anchor="end" font-size="7" fill="#111" stroke="#111" stroke-width="0.2" textLength="6.4" lengthAdjust="spacingAndGlyphs">10</text><text x="271.10" y="212.5" font-size="5.8" fill="#111" stroke="#111" stroke-width="0.15">2</text><text x="287.75" y="216.7" text-anchor="end" font-size="7" fill="#111" stroke="#111" stroke-width="0.2" textLength="6.4" lengthAdjust="spacingAndGlyphs">10</text><text x="288.15" y="212.5" font-size="5.8" fill="#111" stroke="#111" stroke-width="0.15">3</text><text x="304.80" y="216.7" text-anchor="end" font-size="7" fill="#111" stroke="#111" stroke-width="0.2" textLength="6.4" lengthAdjust="spacingAndGlyphs">10</text><text x="305.20" y="212.5" font-size="5.8" fill="#111" stroke="#111" stroke-width="0.15">4</text><text x="259.5" y="222.7" font-size="6.5" font-weight="bold" stroke="#111" stroke-width="0.2" textLength="17.3" lengthAdjust="spacingAndGlyphs" fill="#111">FL2-H</text><text x="281.90" y="149.60" font-size="9.6" fill="#111" stroke="#111" stroke-width="0.15" textLength="11.70" lengthAdjust="spacingAndGlyphs">46</text></g>
<g><path d="M340.30,205.50V202.05H341.00V201.95H341.70V201.89H342.40V202.29H343.10V200.89H343.80V199.66H344.50V198.76H345.20V198.89H345.90V198.43H346.60V198.54H347.30V197.61H348.00V196.40H348.70V198.18H349.40V197.78H350.10V196.93H350.80V196.52H351.50V192.01H352.20V197.16H352.90V198.08H353.60V197.86H354.30V198.20H355.00V195.77H355.70V193.35H356.40V188.73H357.10V185.91H357.80V186.81H358.50V188.00H359.20V184.02H359.90V182.45H360.60V181.29H361.30V178.71H362.00V179.71H362.70V180.59H363.40V180.28H364.10V178.60H364.80V179.97H365.50V178.56H366.20V177.92H366.90V174.41H367.60V170.19H368.30V167.54H369.00V167.41H369.70V160.55H370.40V164.72H371.10V170.62H371.80V165.99H372.50V165.35H373.20V162.20H373.90V159.82H374.60V159.44H375.30V159.63H376.00V163.27H376.70V160.87H377.40V163.68H378.10V161.27H378.80V157.72H379.50V163.69H380.20V166.80H380.90V166.19H381.60V166.51H382.30V174.70H383.00V176.12H383.70V177.49H384.40V178.75H385.10V179.70H385.80V184.05H386.50V184.73H387.20V187.83H387.90V191.38H388.60V192.95H389.30V195.32H390.00V196.73H390.70V198.36H391.40V200.02H392.10V201.86H392.80V203.55H393.50V205.14H394.20V205.50Z" fill="#000"/><path d="M340.60,184.53H341.35V191.99H342.10V196.36H342.85V197.55H343.60V191.67H344.35V181.58H345.10V177.32H345.85V177.40H346.60V174.48H347.35V171.30H348.10V170.50H348.85V171.60H349.60V171.99H350.35V166.93H351.10V164.66H351.85V161.19H352.60V159.54H353.35V159.11H354.10V157.55H354.85V158.24H355.60V159.40H356.35V162.54H357.10V167.49H357.85V168.78H358.60V171.68H359.35V175.38H360.10V178.85H360.85V182.36H361.60" fill="none" stroke="#000" stroke-width="1.9"/><rect x="339.8" y="135.8" width="1.5" height="70.4" fill="#000"/><rect x="340" y="135.8" width="70.8" height="1" fill="#000"/><rect x="409.8" y="135.8" width="1" height="70.4" fill="#000"/><rect x="340" y="204.8" width="70.8" height="1.4" fill="#000"/><path d="M337.20,205.50H340M338.40,202.04H340M338.40,198.58H340M338.40,195.12H340M338.40,191.66H340M337.20,188.20H340M338.40,184.74H340M338.40,181.28H340M338.40,177.82H340M338.40,174.36H340M337.20,170.90H340M338.40,167.44H340M338.40,163.98H340M338.40,160.52H340M338.40,157.06H340M337.20,153.60H340M338.40,150.14H340M338.40,146.68H340M338.40,143.22H340M338.40,139.76H340M337.20,136.30H340M340.70,206V208.60M345.91,206V207.40M348.95,206V207.40M351.12,206V207.40M352.79,206V207.40M354.16,206V207.40M355.32,206V207.40M356.32,206V207.40M357.21,206V207.40M358.00,206V208.60M363.21,206V207.40M366.25,206V207.40M368.42,206V207.40M370.09,206V207.40M371.46,206V207.40M372.62,206V207.40M373.62,206V207.40M374.51,206V207.40M375.30,206V208.60M380.51,206V207.40M383.55,206V207.40M385.72,206V207.40M387.39,206V207.40M388.76,206V207.40M389.92,206V207.40M390.92,206V207.40M391.81,206V207.40M392.60,206V208.60M397.81,206V207.40M400.85,206V207.40M403.02,206V207.40M404.69,206V207.40M406.06,206V207.40M407.22,206V207.40M408.22,206V207.40M409.11,206V207.40M409.90,206V208.60" stroke="#000" stroke-width="0.9" fill="none"/><text transform="translate(334.8,205.50) rotate(-90)" text-anchor="middle" font-size="6.5" fill="#111">0</text><text transform="translate(334.8,188.20) rotate(-90)" text-anchor="middle" font-size="6.5" fill="#111">5</text><text transform="translate(334.8,170.90) rotate(-90)" text-anchor="middle" font-size="6.5" fill="#111">10</text><text transform="translate(334.8,153.60) rotate(-90)" text-anchor="middle" font-size="6.5" fill="#111">15</text><text transform="translate(334.8,136.30) rotate(-90)" text-anchor="middle" font-size="6.5" fill="#111">20</text><text transform="translate(327.8,172.4) rotate(-90)" text-anchor="middle" font-size="7" font-weight="bold" textLength="20.8" lengthAdjust="spacingAndGlyphs" fill="#111">Counts</text><text x="342.60" y="216.7" text-anchor="end" font-size="7" fill="#111" stroke="#111" stroke-width="0.2" textLength="6.4" lengthAdjust="spacingAndGlyphs">10</text><text x="343.00" y="212.5" font-size="5.8" fill="#111" stroke="#111" stroke-width="0.15">0</text><text x="359.65" y="216.7" text-anchor="end" font-size="7" fill="#111" stroke="#111" stroke-width="0.2" textLength="6.4" lengthAdjust="spacingAndGlyphs">10</text><text x="360.05" y="212.5" font-size="5.8" fill="#111" stroke="#111" stroke-width="0.15">1</text><text x="376.70" y="216.7" text-anchor="end" font-size="7" fill="#111" stroke="#111" stroke-width="0.2" textLength="6.4" lengthAdjust="spacingAndGlyphs">10</text><text x="377.10" y="212.5" font-size="5.8" fill="#111" stroke="#111" stroke-width="0.15">2</text><text x="393.75" y="216.7" text-anchor="end" font-size="7" fill="#111" stroke="#111" stroke-width="0.2" textLength="6.4" lengthAdjust="spacingAndGlyphs">10</text><text x="394.15" y="212.5" font-size="5.8" fill="#111" stroke="#111" stroke-width="0.15">3</text><text x="410.80" y="216.7" text-anchor="end" font-size="7" fill="#111" stroke="#111" stroke-width="0.2" textLength="6.4" lengthAdjust="spacingAndGlyphs">10</text><text x="411.20" y="212.5" font-size="5.8" fill="#111" stroke="#111" stroke-width="0.15">4</text><text x="365.5" y="222.7" font-size="6.5" font-weight="bold" stroke="#111" stroke-width="0.2" textLength="17.3" lengthAdjust="spacingAndGlyphs" fill="#111">FL2-H</text><text x="388.90" y="149.60" font-size="9.6" fill="#111" stroke="#111" stroke-width="0.15" textLength="17.60" lengthAdjust="spacingAndGlyphs">110</text></g>
<g><path d="M23.00,311.50V300.77H23.70V302.44H24.40V307.13H25.10V307.64H25.80V307.66H26.50V307.63H27.20V306.88H27.90V306.75H28.60V306.08H29.30V305.14H30.00V304.90H30.70V300.15H31.40V296.84H32.10V293.96H32.80V288.87H33.50V281.83H34.20V279.48H34.90V274.92H35.60V278.23H36.30V276.87H37.00V280.04H37.70V283.70H38.40V285.35H39.10V283.85H39.80V286.05H40.50V286.77H41.20V291.95H41.90V293.48H42.60V294.68H43.30V294.16H44.00V294.90H44.70V294.34H45.40V296.64H46.10V297.87H46.80V300.04H47.50V299.18H48.20V301.49H48.90V300.23H49.60V300.79H50.30V301.63H51.00V302.59H51.70V301.23H52.40V301.81H53.10V300.51H53.80V300.84H54.50V302.23H55.20V304.94H55.90V305.25H56.60V305.26H57.30V305.44H58.00V306.17H58.70V306.42H59.40V304.48H60.10V305.44H60.80V305.03H61.50V304.81H62.20V305.14H62.90V304.64H63.60V305.34H64.30V306.27H65.00V306.65H65.70V305.51H66.40V304.64H67.10V306.07H67.80V306.49H68.50V307.41H69.20V306.86H69.90V307.55H70.60V307.13H71.30V306.72H72.00V307.28H72.70V307.23H73.40V307.16H74.10V307.35H74.80V307.18H75.50V305.55H76.20V305.73H76.90V304.62H77.60V305.40H78.30V305.85H79.00V304.73H79.70V304.78H80.40V305.71H81.10V304.88H81.80V306.49H82.50V307.57H83.20V308.76H83.90V309.59H84.60V310.53H85.30V311.50Z" fill="#000"/><clipPath id="cp20"><rect x="31.3" y="242" width="3.8999999999999986" height="42"/></clipPath><path d="M22.60,296.34H23.35V301.56H24.10V304.51H24.85V304.41H25.60V300.58H26.35V294.18H27.10V283.30H27.85V270.80H28.60V260.16H29.35V263.53H30.10V263.48H30.85V268.58H31.60V258.66H32.35V263.45H33.10V271.17H33.85V265.92H34.60V271.56H35.35V270.16H36.10V273.86H36.85V278.12H37.60V311.5H22.6Z" fill="#000" clip-path="url(#cp20)"/><path d="M22.60,296.34H23.35V301.56H24.10V304.51H24.85V304.41H25.60V300.58H26.35V294.18H27.10V283.30H27.85V270.80H28.60V260.16H29.35V263.53H30.10V263.48H30.85V268.58H31.60V258.66H32.35V263.45H33.10V271.17H33.85V265.92H34.60V271.56H35.35V270.16H36.10V273.86H36.85V278.12H37.60" fill="none" stroke="#000" stroke-width="1.9"/><rect x="21.8" y="241.8" width="1.5" height="70.4" fill="#000"/><rect x="22" y="241.8" width="70.8" height="1" fill="#000"/><rect x="91.8" y="241.8" width="1" height="70.4" fill="#000"/><rect x="22" y="310.8" width="70.8" height="1.4" fill="#000"/><path d="M19.20,311.50H22M20.40,308.04H22M20.40,304.58H22M20.40,301.12H22M20.40,297.66H22M19.20,294.20H22M20.40,290.74H22M20.40,287.28H22M20.40,283.82H22M20.40,280.36H22M19.20,276.90H22M20.40,273.44H22M20.40,269.98H22M20.40,266.52H22M20.40,263.06H22M19.20,259.60H22M20.40,256.14H22M20.40,252.68H22M20.40,249.22H22M20.40,245.76H22M19.20,242.30H22M22.70,312V314.60M27.91,312V313.40M30.95,312V313.40M33.12,312V313.40M34.79,312V313.40M36.16,312V313.40M37.32,312V313.40M38.32,312V313.40M39.21,312V313.40M40.00,312V314.60M45.21,312V313.40M48.25,312V313.40M50.42,312V313.40M52.09,312V313.40M53.46,312V313.40M54.62,312V313.40M55.62,312V313.40M56.51,312V313.40M57.30,312V314.60M62.51,312V313.40M65.55,312V313.40M67.72,312V313.40M69.39,312V313.40M70.76,312V313.40M71.92,312V313.40M72.92,312V313.40M73.81,312V313.40M74.60,312V314.60M79.81,312V313.40M82.85,312V313.40M85.02,312V313.40M86.69,312V313.40M88.06,312V313.40M89.22,312V313.40M90.22,312V313.40M91.11,312V313.40M91.90,312V314.60" stroke="#000" stroke-width="0.9" fill="none"/><text transform="translate(16.8,311.50) rotate(-90)" text-anchor="middle" font-size="6.5" fill="#111">0</text><text transform="translate(16.8,294.20) rotate(-90)" text-anchor="middle" font-size="6.5" fill="#111">5</text><text transform="translate(16.8,276.90) rotate(-90)" text-anchor="middle" font-size="6.5" fill="#111">10</text><text transform="translate(16.8,259.60) rotate(-90)" text-anchor="middle" font-size="6.5" fill="#111">15</text><text transform="translate(16.8,242.30) rotate(-90)" text-anchor="middle" font-size="6.5" fill="#111">20</text><text transform="translate(9.8,278.4) rotate(-90)" text-anchor="middle" font-size="7" font-weight="bold" textLength="20.8" lengthAdjust="spacingAndGlyphs" fill="#111">Counts</text><text x="24.60" y="322.7" text-anchor="end" font-size="7" fill="#111" stroke="#111" stroke-width="0.2" textLength="6.4" lengthAdjust="spacingAndGlyphs">10</text><text x="25.00" y="318.5" font-size="5.8" fill="#111" stroke="#111" stroke-width="0.15">0</text><text x="41.65" y="322.7" text-anchor="end" font-size="7" fill="#111" stroke="#111" stroke-width="0.2" textLength="6.4" lengthAdjust="spacingAndGlyphs">10</text><text x="42.05" y="318.5" font-size="5.8" fill="#111" stroke="#111" stroke-width="0.15">1</text><text x="58.70" y="322.7" text-anchor="end" font-size="7" fill="#111" stroke="#111" stroke-width="0.2" textLength="6.4" lengthAdjust="spacingAndGlyphs">10</text><text x="59.10" y="318.5" font-size="5.8" fill="#111" stroke="#111" stroke-width="0.15">2</text><text x="75.75" y="322.7" text-anchor="end" font-size="7" fill="#111" stroke="#111" stroke-width="0.2" textLength="6.4" lengthAdjust="spacingAndGlyphs">10</text><text x="76.15" y="318.5" font-size="5.8" fill="#111" stroke="#111" stroke-width="0.15">3</text><text x="92.80" y="322.7" text-anchor="end" font-size="7" fill="#111" stroke="#111" stroke-width="0.2" textLength="6.4" lengthAdjust="spacingAndGlyphs">10</text><text x="93.20" y="318.5" font-size="5.8" fill="#111" stroke="#111" stroke-width="0.15">4</text><text x="47.5" y="328.7" font-size="6.5" font-weight="bold" stroke="#111" stroke-width="0.2" textLength="17.3" lengthAdjust="spacingAndGlyphs" fill="#111">FL2-H</text></g>
<g><path d="M129.00,311.50V290.50H129.70V290.36H130.40V311.50ZM143.00,311.50V299.86H143.70V302.40H144.40V302.90H145.10V306.99H145.80V311.50ZM146.50,311.50V311.42H147.20V311.37H147.90V311.30H148.60V311.25H149.30V311.19H150.00V311.09H150.70V310.93H151.40V309.35H152.10V307.68H152.80V305.42H153.50V304.50H154.20V301.47H154.90V298.08H155.60V295.74H156.30V294.04H157.00V291.03H157.70V292.09H158.40V289.52H159.10V289.39H159.80V287.13H160.50V285.98H161.20V285.06H161.90V281.03H162.60V276.29H163.30V276.28H164.00V275.76H164.70V277.29H165.40V274.46H166.10V276.41H166.80V276.20H167.50V274.89H168.20V279.17H168.90V280.46H169.60V281.75H170.30V279.61H171.00V284.05H171.70V286.18H172.40V284.86H173.10V286.74H173.80V288.09H174.50V290.17H175.20V292.55H175.90V294.75H176.60V296.94H177.30V300.02H178.00V301.44H178.70V302.06H179.40V303.33H180.10V305.90H180.80V306.57H181.50V308.00H182.20V308.71H182.90V308.75H183.60V308.26H184.30V307.88H185.00V308.54H185.70V309.64H186.40V311.02H187.10V311.50Z" fill="#000"/><clipPath id="cp21"><rect x="133" y="242" width="4.5" height="27"/></clipPath><path d="M129.20,294.61H129.95V305.27H130.70V302.71H131.45V292.02H132.20V276.00H132.95V265.44H133.70V258.04H134.45V251.07H135.20V249.92H135.95V251.70H136.70V264.27H137.45V271.47H138.20V275.37H138.95V280.57H139.70V286.58H140.45V289.77H141.20V293.15H141.95V295.23H142.70V297.75H143.45V299.93H144.20V301.80H144.95V303.70H145.70V306.65H146.45V307.77H147.20V308.56H147.95V308.87H148.70V308.84H149.45V308.84H150.20V308.61H150.95V308.62H151.70V308.93H152.45V311.5H129.2Z" fill="#000" clip-path="url(#cp21)"/><path d="M129.20,294.61H129.95V305.27H130.70V302.71H131.45V292.02H132.20V276.00H132.95V265.44H133.70V258.04H134.45V251.07H135.20V249.92H135.95V251.70H136.70V264.27H137.45V271.47H138.20V275.37H138.95V280.57H139.70V286.58H140.45V289.77H141.20V293.15H141.95V295.23H142.70V297.75H143.45V299.93H144.20V301.80H144.95V303.70H145.70V306.65H146.45V307.77H147.20V308.56H147.95V308.87H148.70V308.84H149.45V308.84H150.20V308.61H150.95V308.62H151.70V308.93H152.45" fill="none" stroke="#000" stroke-width="1.9"/><rect x="127.8" y="241.8" width="1.5" height="70.4" fill="#000"/><rect x="128" y="241.8" width="70.8" height="1" fill="#000"/><rect x="197.8" y="241.8" width="1" height="70.4" fill="#000"/><rect x="128" y="310.8" width="70.8" height="1.4" fill="#000"/><path d="M125.20,311.50H128M126.40,308.04H128M126.40,304.58H128M126.40,301.12H128M126.40,297.66H128M125.20,294.20H128M126.40,290.74H128M126.40,287.28H128M126.40,283.82H128M126.40,280.36H128M125.20,276.90H128M126.40,273.44H128M126.40,269.98H128M126.40,266.52H128M126.40,263.06H128M125.20,259.60H128M126.40,256.14H128M126.40,252.68H128M126.40,249.22H128M126.40,245.76H128M125.20,242.30H128M128.70,312V314.60M133.91,312V313.40M136.95,312V313.40M139.12,312V313.40M140.79,312V313.40M142.16,312V313.40M143.32,312V313.40M144.32,312V313.40M145.21,312V313.40M146.00,312V314.60M151.21,312V313.40M154.25,312V313.40M156.42,312V313.40M158.09,312V313.40M159.46,312V313.40M160.62,312V313.40M161.62,312V313.40M162.51,312V313.40M163.30,312V314.60M168.51,312V313.40M171.55,312V313.40M173.72,312V313.40M175.39,312V313.40M176.76,312V313.40M177.92,312V313.40M178.92,312V313.40M179.81,312V313.40M180.60,312V314.60M185.81,312V313.40M188.85,312V313.40M191.02,312V313.40M192.69,312V313.40M194.06,312V313.40M195.22,312V313.40M196.22,312V313.40M197.11,312V313.40M197.90,312V314.60" stroke="#000" stroke-width="0.9" fill="none"/><text transform="translate(122.8,311.50) rotate(-90)" text-anchor="middle" font-size="6.5" fill="#111">0</text><text transform="translate(122.8,294.20) rotate(-90)" text-anchor="middle" font-size="6.5" fill="#111">5</text><text transform="translate(122.8,276.90) rotate(-90)" text-anchor="middle" font-size="6.5" fill="#111">10</text><text transform="translate(122.8,259.60) rotate(-90)" text-anchor="middle" font-size="6.5" fill="#111">15</text><text transform="translate(122.8,242.30) rotate(-90)" text-anchor="middle" font-size="6.5" fill="#111">20</text><text transform="translate(115.8,278.4) rotate(-90)" text-anchor="middle" font-size="7" font-weight="bold" textLength="20.8" lengthAdjust="spacingAndGlyphs" fill="#111">Counts</text><text x="130.60" y="322.7" text-anchor="end" font-size="7" fill="#111" stroke="#111" stroke-width="0.2" textLength="6.4" lengthAdjust="spacingAndGlyphs">10</text><text x="131.00" y="318.5" font-size="5.8" fill="#111" stroke="#111" stroke-width="0.15">0</text><text x="147.65" y="322.7" text-anchor="end" font-size="7" fill="#111" stroke="#111" stroke-width="0.2" textLength="6.4" lengthAdjust="spacingAndGlyphs">10</text><text x="148.05" y="318.5" font-size="5.8" fill="#111" stroke="#111" stroke-width="0.15">1</text><text x="164.70" y="322.7" text-anchor="end" font-size="7" fill="#111" stroke="#111" stroke-width="0.2" textLength="6.4" lengthAdjust="spacingAndGlyphs">10</text><text x="165.10" y="318.5" font-size="5.8" fill="#111" stroke="#111" stroke-width="0.15">2</text><text x="181.75" y="322.7" text-anchor="end" font-size="7" fill="#111" stroke="#111" stroke-width="0.2" textLength="6.4" lengthAdjust="spacingAndGlyphs">10</text><text x="182.15" y="318.5" font-size="5.8" fill="#111" stroke="#111" stroke-width="0.15">3</text><text x="198.80" y="322.7" text-anchor="end" font-size="7" fill="#111" stroke="#111" stroke-width="0.2" textLength="6.4" lengthAdjust="spacingAndGlyphs">10</text><text x="199.20" y="318.5" font-size="5.8" fill="#111" stroke="#111" stroke-width="0.15">4</text><text x="153.5" y="328.7" font-size="6.5" font-weight="bold" stroke="#111" stroke-width="0.2" textLength="17.3" lengthAdjust="spacingAndGlyphs" fill="#111">FL1-H</text><text x="173.60" y="261.40" font-size="9.6" fill="#111" stroke="#111" stroke-width="0.15" textLength="17.70" lengthAdjust="spacingAndGlyphs">203</text></g>
<g><path d="M235.00,311.50V297.25H235.70V297.36H236.40V306.26H237.10V307.90H237.80V307.15H238.50V306.24H239.20V305.85H239.90V306.27H240.60V306.25H241.30V305.33H242.00V305.38H242.70V305.54H243.40V305.06H244.10V304.68H244.80V304.60H245.50V303.56H246.20V302.16H246.90V304.49H247.60V304.06H248.30V304.15H249.00V304.23H249.70V303.98H250.40V304.09H251.10V302.51H251.80V304.26H252.50V304.54H253.20V305.39H253.90V304.94H254.60V306.15H255.30V306.38H256.00V306.23H256.70V305.75H257.40V305.53H258.10V305.21H258.80V304.88H259.50V304.23H260.20V300.25H260.90V296.57H261.60V293.19H262.30V287.93H263.00V282.32H263.70V275.85H264.40V268.98H265.10V261.57H265.80V254.67H266.50V247.73H267.20V259.60H267.90V262.34H268.60V263.76H269.30V264.56H270.00V269.39H270.70V274.21H271.40V277.45H272.10V281.86H272.80V286.56H273.50V293.57H274.20V298.97H274.90V302.11H275.60V304.53H276.30V306.02H277.00V307.77H277.70V309.05H278.40V310.75H279.10V311.50ZM281.90,311.50V309.33H282.60V307.65H283.30V308.53H284.00V311.50ZM286.10,311.50V307.50H286.80V307.44H287.50V310.16H288.20V311.50Z" fill="#000"/><clipPath id="cp22"><rect x="243.3" y="242" width="3.8999999999999986" height="42"/></clipPath><path d="M234.60,297.02H235.35V301.99H236.10V304.43H236.85V304.39H237.60V301.23H238.35V294.80H239.10V286.23H239.85V275.57H240.60V264.86H241.35V257.23H242.10V263.67H242.85V265.75H243.60V261.37H244.35V257.24H245.10V266.56H245.85V268.74H246.60V270.25H247.35V273.10H248.10V273.31H248.85V281.04H249.60V286.35H250.35V288.46H251.10V290.13H251.85V293.46H252.60V295.84H253.35V298.81H254.10V299.96H254.85V301.69H255.60V303.54H256.35V304.33H257.10V305.43H257.85V305.17H258.60V305.25H259.35V304.90H260.10V311.5H234.6Z" fill="#000" clip-path="url(#cp22)"/><path d="M234.60,297.02H235.35V301.99H236.10V304.43H236.85V304.39H237.60V301.23H238.35V294.80H239.10V286.23H239.85V275.57H240.60V264.86H241.35V257.23H242.10V263.67H242.85V265.75H243.60V261.37H244.35V257.24H245.10V266.56H245.85V268.74H246.60V270.25H247.35V273.10H248.10V273.31H248.85V281.04H249.60V286.35H250.35V288.46H251.10V290.13H251.85V293.46H252.60V295.84H253.35V298.81H254.10V299.96H254.85V301.69H255.60V303.54H256.35V304.33H257.10V305.43H257.85V305.17H258.60V305.25H259.35V304.90H260.10" fill="none" stroke="#000" stroke-width="1.9"/><rect x="233.8" y="241.8" width="1.5" height="70.4" fill="#000"/><rect x="234" y="241.8" width="70.8" height="1" fill="#000"/><rect x="303.8" y="241.8" width="1" height="70.4" fill="#000"/><rect x="234" y="310.8" width="70.8" height="1.4" fill="#000"/><path d="M231.20,311.50H234M232.40,308.04H234M232.40,304.58H234M232.40,301.12H234M232.40,297.66H234M231.20,294.20H234M232.40,290.74H234M232.40,287.28H234M232.40,283.82H234M232.40,280.36H234M231.20,276.90H234M232.40,273.44H234M232.40,269.98H234M232.40,266.52H234M232.40,263.06H234M231.20,259.60H234M232.40,256.14H234M232.40,252.68H234M232.40,249.22H234M232.40,245.76H234M231.20,242.30H234M234.70,312V314.60M239.91,312V313.40M242.95,312V313.40M245.12,312V313.40M246.79,312V313.40M248.16,312V313.40M249.32,312V313.40M250.32,312V313.40M251.21,312V313.40M252.00,312V314.60M257.21,312V313.40M260.25,312V313.40M262.42,312V313.40M264.09,312V313.40M265.46,312V313.40M266.62,312V313.40M267.62,312V313.40M268.51,312V313.40M269.30,312V314.60M274.51,312V313.40M277.55,312V313.40M279.72,312V313.40M281.39,312V313.40M282.76,312V313.40M283.92,312V313.40M284.92,312V313.40M285.81,312V313.40M286.60,312V314.60M291.81,312V313.40M294.85,312V313.40M297.02,312V313.40M298.69,312V313.40M300.06,312V313.40M301.22,312V313.40M302.22,312V313.40M303.11,312V313.40M303.90,312V314.60" stroke="#000" stroke-width="0.9" fill="none"/><text transform="translate(228.8,311.50) rotate(-90)" text-anchor="middle" font-size="6.5" fill="#111">0</text><text transform="translate(228.8,294.20) rotate(-90)" text-anchor="middle" font-size="6.5" fill="#111">5</text><text transform="translate(228.8,276.90) rotate(-90)" text-anchor="middle" font-size="6.5" fill="#111">10</text><text transform="translate(228.8,259.60) rotate(-90)" text-anchor="middle" font-size="6.5" fill="#111">15</text><text transform="translate(228.8,242.30) rotate(-90)" text-anchor="middle" font-size="6.5" fill="#111">20</text><text transform="translate(221.8,278.4) rotate(-90)" text-anchor="middle" font-size="7" font-weight="bold" textLength="20.8" lengthAdjust="spacingAndGlyphs" fill="#111">Counts</text><text x="236.60" y="322.7" text-anchor="end" font-size="7" fill="#111" stroke="#111" stroke-width="0.2" textLength="6.4" lengthAdjust="spacingAndGlyphs">10</text><text x="237.00" y="318.5" font-size="5.8" fill="#111" stroke="#111" stroke-width="0.15">0</text><text x="253.65" y="322.7" text-anchor="end" font-size="7" fill="#111" stroke="#111" stroke-width="0.2" textLength="6.4" lengthAdjust="spacingAndGlyphs">10</text><text x="254.05" y="318.5" font-size="5.8" fill="#111" stroke="#111" stroke-width="0.15">1</text><text x="270.70" y="322.7" text-anchor="end" font-size="7" fill="#111" stroke="#111" stroke-width="0.2" textLength="6.4" lengthAdjust="spacingAndGlyphs">10</text><text x="271.10" y="318.5" font-size="5.8" fill="#111" stroke="#111" stroke-width="0.15">2</text><text x="287.75" y="322.7" text-anchor="end" font-size="7" fill="#111" stroke="#111" stroke-width="0.2" textLength="6.4" lengthAdjust="spacingAndGlyphs">10</text><text x="288.15" y="318.5" font-size="5.8" fill="#111" stroke="#111" stroke-width="0.15">3</text><text x="304.80" y="322.7" text-anchor="end" font-size="7" fill="#111" stroke="#111" stroke-width="0.2" textLength="6.4" lengthAdjust="spacingAndGlyphs">10</text><text x="305.20" y="318.5" font-size="5.8" fill="#111" stroke="#111" stroke-width="0.15">4</text><text x="259.5" y="328.7" font-size="6.5" font-weight="bold" stroke="#111" stroke-width="0.2" textLength="17.3" lengthAdjust="spacingAndGlyphs" fill="#111">FL2-H</text><text x="281.90" y="255.60" font-size="9.6" fill="#111" stroke="#111" stroke-width="0.15" textLength="10.60" lengthAdjust="spacingAndGlyphs">77</text></g>
<g><path d="M341.00,311.50V278.07H341.70V276.84H342.40V298.22H343.10V301.98H343.80V302.10H344.50V298.17H345.20V292.93H345.90V290.31H346.60V284.78H347.30V277.62H348.00V275.49H348.70V271.32H349.40V267.73H350.10V271.31H350.80V274.68H351.50V275.91H352.20V279.61H352.90V276.58H353.60V274.88H354.30V270.05H355.00V266.51H355.70V269.63H356.40V275.12H357.10V276.45H357.80V276.46H358.50V274.27H359.20V277.17H359.90V282.13H360.60V283.45H361.30V283.77H362.00V287.57H362.70V288.75H363.40V288.36H364.10V286.65H364.80V281.87H365.50V282.76H366.20V283.78H366.90V289.01H367.60V291.59H368.30V294.17H369.00V294.91H369.70V296.42H370.40V297.15H371.10V299.39H371.80V299.26H372.50V299.29H373.20V300.96H373.90V301.27H374.60V301.93H375.30V301.23H376.00V303.38H376.70V304.86H377.40V306.13H378.10V307.24H378.80V307.22H379.50V307.77H380.20V307.80H380.90V309.22H381.60V310.41H382.30V311.50Z" fill="#000"/><path d="M342.60,299.40H343.35V296.41H344.10V295.77H344.85V290.04H345.60V281.70H346.35V272.59H347.10V274.21H347.85V272.75H348.60V269.57H349.35V266.28H350.10" fill="none" stroke="#000" stroke-width="1.9"/><rect x="339.8" y="241.8" width="1.5" height="70.4" fill="#000"/><rect x="340" y="241.8" width="70.8" height="1" fill="#000"/><rect x="409.8" y="241.8" width="1" height="70.4" fill="#000"/><rect x="340" y="310.8" width="70.8" height="1.4" fill="#000"/><path d="M337.20,311.50H340M338.40,308.04H340M338.40,304.58H340M338.40,301.12H340M338.40,297.66H340M337.20,294.20H340M338.40,290.74H340M338.40,287.28H340M338.40,283.82H340M338.40,280.36H340M337.20,276.90H340M338.40,273.44H340M338.40,269.98H340M338.40,266.52H340M338.40,263.06H340M337.20,259.60H340M338.40,256.14H340M338.40,252.68H340M338.40,249.22H340M338.40,245.76H340M337.20,242.30H340M340.70,312V314.60M345.91,312V313.40M348.95,312V313.40M351.12,312V313.40M352.79,312V313.40M354.16,312V313.40M355.32,312V313.40M356.32,312V313.40M357.21,312V313.40M358.00,312V314.60M363.21,312V313.40M366.25,312V313.40M368.42,312V313.40M370.09,312V313.40M371.46,312V313.40M372.62,312V313.40M373.62,312V313.40M374.51,312V313.40M375.30,312V314.60M380.51,312V313.40M383.55,312V313.40M385.72,312V313.40M387.39,312V313.40M388.76,312V313.40M389.92,312V313.40M390.92,312V313.40M391.81,312V313.40M392.60,312V314.60M397.81,312V313.40M400.85,312V313.40M403.02,312V313.40M404.69,312V313.40M406.06,312V313.40M407.22,312V313.40M408.22,312V313.40M409.11,312V313.40M409.90,312V314.60" stroke="#000" stroke-width="0.9" fill="none"/><text transform="translate(334.8,311.50) rotate(-90)" text-anchor="middle" font-size="6.5" fill="#111">0</text><text transform="translate(334.8,294.20) rotate(-90)" text-anchor="middle" font-size="6.5" fill="#111">5</text><text transform="translate(334.8,276.90) rotate(-90)" text-anchor="middle" font-size="6.5" fill="#111">10</text><text transform="translate(334.8,259.60) rotate(-90)" text-anchor="middle" font-size="6.5" fill="#111">15</text><text transform="translate(334.8,242.30) rotate(-90)" text-anchor="middle" font-size="6.5" fill="#111">20</text><text transform="translate(327.8,278.4) rotate(-90)" text-anchor="middle" font-size="7" font-weight="bold" textLength="20.8" lengthAdjust="spacingAndGlyphs" fill="#111">Counts</text><text x="342.60" y="322.7" text-anchor="end" font-size="7" fill="#111" stroke="#111" stroke-width="0.2" textLength="6.4" lengthAdjust="spacingAndGlyphs">10</text><text x="343.00" y="318.5" font-size="5.8" fill="#111" stroke="#111" stroke-width="0.15">0</text><text x="359.65" y="322.7" text-anchor="end" font-size="7" fill="#111" stroke="#111" stroke-width="0.2" textLength="6.4" lengthAdjust="spacingAndGlyphs">10</text><text x="360.05" y="318.5" font-size="5.8" fill="#111" stroke="#111" stroke-width="0.15">1</text><text x="376.70" y="322.7" text-anchor="end" font-size="7" fill="#111" stroke="#111" stroke-width="0.2" textLength="6.4" lengthAdjust="spacingAndGlyphs">10</text><text x="377.10" y="318.5" font-size="5.8" fill="#111" stroke="#111" stroke-width="0.15">2</text><text x="393.75" y="322.7" text-anchor="end" font-size="7" fill="#111" stroke="#111" stroke-width="0.2" textLength="6.4" lengthAdjust="spacingAndGlyphs">10</text><text x="394.15" y="318.5" font-size="5.8" fill="#111" stroke="#111" stroke-width="0.15">3</text><text x="410.80" y="322.7" text-anchor="end" font-size="7" fill="#111" stroke="#111" stroke-width="0.2" textLength="6.4" lengthAdjust="spacingAndGlyphs">10</text><text x="411.20" y="318.5" font-size="5.8" fill="#111" stroke="#111" stroke-width="0.15">4</text><text x="365.5" y="328.7" font-size="6.5" font-weight="bold" stroke="#111" stroke-width="0.2" textLength="17.3" lengthAdjust="spacingAndGlyphs" fill="#111">FL2-H</text><text x="388.90" y="255.60" font-size="9.6" fill="#111" stroke="#111" stroke-width="0.15" textLength="11.00" lengthAdjust="spacingAndGlyphs">15</text></g>
<g><path d="M23.00,417.50V408.51H23.70V409.00H24.40V414.51H25.10V414.35H25.80V414.12H26.50V414.51H27.20V414.17H27.90V413.80H28.60V413.50H29.30V413.52H30.00V412.88H30.70V413.37H31.40V413.63H32.10V412.87H32.80V410.80H33.50V409.68H34.20V408.15H34.90V408.64H35.60V407.41H36.30V414.40H37.00V414.20H37.70V413.62H38.40V413.64H39.10V413.01H39.80V412.46H40.50V411.32H41.20V412.58H41.90V414.19H42.60V414.39H43.30V414.34H44.00V414.85H44.70V414.86H45.40V414.96H46.10V415.71H46.80V415.16H47.50V411.50H48.20V409.05H48.90V405.44H49.60V401.03H50.30V396.51H51.00V393.79H51.70V394.76H52.40V393.99H53.10V390.35H53.80V389.24H54.50V384.54H55.20V379.53H55.90V387.21H56.60V382.94H57.30V380.34H58.00V377.51H58.70V374.44H59.40V377.03H60.10V380.14H60.80V385.61H61.50V384.69H62.20V382.35H62.90V379.52H63.60V382.95H64.30V388.32H65.00V391.97H65.70V392.04H66.40V394.18H67.10V394.94H67.80V395.70H68.50V396.92H69.20V398.89H69.90V399.77H70.60V401.49H71.30V402.74H72.00V406.34H72.70V407.12H73.40V408.69H74.10V410.44H74.80V412.34H75.50V413.22H76.20V414.26H76.90V415.04H77.60V414.11H78.30V413.83H79.00V415.34H79.70V416.69H80.40V417.50Z" fill="#000"/><clipPath id="cp30"><rect x="28.5" y="348" width="6.5" height="30"/></clipPath><path d="M22.90,408.24H23.65V411.35H24.40V412.37H25.15V410.07H25.90V404.89H26.65V399.86H27.40V390.84H28.15V380.06H28.90V373.43H29.65V371.25H30.40V374.20H31.15V370.42H31.90V362.43H32.65V369.58H33.40V376.74H34.15V381.90H34.90V381.55H35.65V381.34H36.40V388.57H37.15V392.78H37.90V397.01H38.65V400.55H39.40V402.20H40.15V404.04H40.90V405.15H41.65V404.90H42.40V407.48H43.15V407.91H43.90V409.20H44.65V412.20H45.40V413.33H46.15V413.70H46.90V414.43H47.65V414.43H48.40V417.5H22.9Z" fill="#000" clip-path="url(#cp30)"/><path d="M22.90,408.24H23.65V411.35H24.40V412.37H25.15V410.07H25.90V404.89H26.65V399.86H27.40V390.84H28.15V380.06H28.90V373.43H29.65V371.25H30.40V374.20H31.15V370.42H31.90V362.43H32.65V369.58H33.40V376.74H34.15V381.90H34.90V381.55H35.65V381.34H36.40V388.57H37.15V392.78H37.90V397.01H38.65V400.55H39.40V402.20H40.15V404.04H40.90V405.15H41.65V404.90H42.40V407.48H43.15V407.91H43.90V409.20H44.65V412.20H45.40V413.33H46.15V413.70H46.90V414.43H47.65V414.43H48.40" fill="none" stroke="#000" stroke-width="1.9"/><rect x="21.8" y="347.8" width="1.5" height="70.4" fill="#000"/><rect x="22" y="347.8" width="70.8" height="1" fill="#000"/><rect x="91.8" y="347.8" width="1" height="70.4" fill="#000"/><rect x="22" y="416.8" width="70.8" height="1.4" fill="#000"/><path d="M19.20,417.50H22M20.40,414.04H22M20.40,410.58H22M20.40,407.12H22M20.40,403.66H22M19.20,400.20H22M20.40,396.74H22M20.40,393.28H22M20.40,389.82H22M20.40,386.36H22M19.20,382.90H22M20.40,379.44H22M20.40,375.98H22M20.40,372.52H22M20.40,369.06H22M19.20,365.60H22M20.40,362.14H22M20.40,358.68H22M20.40,355.22H22M20.40,351.76H22M19.20,348.30H22M22.70,418V420.60M27.91,418V419.40M30.95,418V419.40M33.12,418V419.40M34.79,418V419.40M36.16,418V419.40M37.32,418V419.40M38.32,418V419.40M39.21,418V419.40M40.00,418V420.60M45.21,418V419.40M48.25,418V419.40M50.42,418V419.40M52.09,418V419.40M53.46,418V419.40M54.62,418V419.40M55.62,418V419.40M56.51,418V419.40M57.30,418V420.60M62.51,418V419.40M65.55,418V419.40M67.72,418V419.40M69.39,418V419.40M70.76,418V419.40M71.92,418V419.40M72.92,418V419.40M73.81,418V419.40M74.60,418V420.60M79.81,418V419.40M82.85,418V419.40M85.02,418V419.40M86.69,418V419.40M88.06,418V419.40M89.22,418V419.40M90.22,418V419.40M91.11,418V419.40M91.90,418V420.60" stroke="#000" stroke-width="0.9" fill="none"/><text transform="translate(16.8,417.50) rotate(-90)" text-anchor="middle" font-size="6.5" fill="#111">0</text><text transform="translate(16.8,400.20) rotate(-90)" text-anchor="middle" font-size="6.5" fill="#111">5</text><text transform="translate(16.8,382.90) rotate(-90)" text-anchor="middle" font-size="6.5" fill="#111">10</text><text transform="translate(16.8,365.60) rotate(-90)" text-anchor="middle" font-size="6.5" fill="#111">15</text><text transform="translate(16.8,348.30) rotate(-90)" text-anchor="middle" font-size="6.5" fill="#111">20</text><text transform="translate(9.8,384.4) rotate(-90)" text-anchor="middle" font-size="7" font-weight="bold" textLength="20.8" lengthAdjust="spacingAndGlyphs" fill="#111">Counts</text><text x="24.60" y="428.7" text-anchor="end" font-size="7" fill="#111" stroke="#111" stroke-width="0.2" textLength="6.4" lengthAdjust="spacingAndGlyphs">10</text><text x="25.00" y="424.5" font-size="5.8" fill="#111" stroke="#111" stroke-width="0.15">0</text><text x="41.65" y="428.7" text-anchor="end" font-size="7" fill="#111" stroke="#111" stroke-width="0.2" textLength="6.4" lengthAdjust="spacingAndGlyphs">10</text><text x="42.05" y="424.5" font-size="5.8" fill="#111" stroke="#111" stroke-width="0.15">1</text><text x="58.70" y="428.7" text-anchor="end" font-size="7" fill="#111" stroke="#111" stroke-width="0.2" textLength="6.4" lengthAdjust="spacingAndGlyphs">10</text><text x="59.10" y="424.5" font-size="5.8" fill="#111" stroke="#111" stroke-width="0.15">2</text><text x="75.75" y="428.7" text-anchor="end" font-size="7" fill="#111" stroke="#111" stroke-width="0.2" textLength="6.4" lengthAdjust="spacingAndGlyphs">10</text><text x="76.15" y="424.5" font-size="5.8" fill="#111" stroke="#111" stroke-width="0.15">3</text><text x="92.80" y="428.7" text-anchor="end" font-size="7" fill="#111" stroke="#111" stroke-width="0.2" textLength="6.4" lengthAdjust="spacingAndGlyphs">10</text><text x="93.20" y="424.5" font-size="5.8" fill="#111" stroke="#111" stroke-width="0.15">4</text><text x="47.5" y="434.7" font-size="6.5" font-weight="bold" stroke="#111" stroke-width="0.2" textLength="17.3" lengthAdjust="spacingAndGlyphs" fill="#111">FL2-H</text><text x="57.00" y="361.80" font-size="9.6" fill="#111" stroke="#111" stroke-width="0.15" textLength="16.50" lengthAdjust="spacingAndGlyphs">187</text></g>
<g><path d="M143.70,417.50V412.35H144.40V410.44H145.10V410.59H145.80V414.16H146.50V417.50ZM147.90,417.50V414.31H148.60V411.45H149.30V412.00H150.00V412.14H150.70V411.30H151.40V410.31H152.10V413.72H152.80V417.50ZM155.60,417.50V411.25H156.30V410.53H157.00V410.89H157.70V412.08H158.40V413.23H159.10V413.61H159.80V413.27H160.50V411.66H161.20V410.97H161.90V410.82H162.60V410.50H163.30V411.87H164.00V412.44H164.70V410.48H165.40V410.19H166.10V410.24H166.80V410.51H167.50V411.91H168.20V410.94H168.90V408.76H169.60V409.03H170.30V408.19H171.00V409.10H171.70V409.70H172.40V409.66H173.10V408.18H173.80V406.14H174.50V405.03H175.20V403.81H175.90V403.05H176.60V400.24H177.30V403.44H178.00V401.98H178.70V397.41H179.40V395.28H180.10V392.66H180.80V387.51H181.50V382.24H182.20V377.44H182.90V373.06H183.60V369.38H184.30V367.75H185.00V366.97H185.70V370.84H186.40V377.51H187.10V386.29H187.80V394.45H188.50V403.16H189.20V407.69H189.90V409.38H190.60V412.12H191.30V413.84H192.00V415.33H192.70V416.62H193.40V417.50Z" fill="#000"/><path d="M129.20,413.76H129.95V412.36H130.70V410.08H131.45V406.39H132.20V397.19H132.95V389.22H133.70V379.72H134.45V372.10H135.20V364.83H135.95V361.53H136.70V359.82H137.45V358.28H138.20V363.20H138.95V366.47H139.70V369.70H140.45V371.84H141.20V372.71H141.95V377.82H142.70V384.33H143.45V390.45H144.20V397.65H144.95V402.98H145.70V404.80H146.45V398.92H147.20V399.23H147.95V402.67H148.70V405.64H149.45V407.78H150.20V410.77H150.95V411.55H151.70V411.75H152.45V412.36H153.20V413.17H153.95V414.08H154.70V414.90H155.45" fill="none" stroke="#000" stroke-width="1.9"/><rect x="127.8" y="347.8" width="1.5" height="70.4" fill="#000"/><rect x="128" y="347.8" width="70.8" height="1" fill="#000"/><rect x="197.8" y="347.8" width="1" height="70.4" fill="#000"/><rect x="128" y="416.8" width="70.8" height="1.4" fill="#000"/><path d="M125.20,417.50H128M126.40,414.04H128M126.40,410.58H128M126.40,407.12H128M126.40,403.66H128M125.20,400.20H128M126.40,396.74H128M126.40,393.28H128M126.40,389.82H128M126.40,386.36H128M125.20,382.90H128M126.40,379.44H128M126.40,375.98H128M126.40,372.52H128M126.40,369.06H128M125.20,365.60H128M126.40,362.14H128M126.40,358.68H128M126.40,355.22H128M126.40,351.76H128M125.20,348.30H128M128.70,418V420.60M133.91,418V419.40M136.95,418V419.40M139.12,418V419.40M140.79,418V419.40M142.16,418V419.40M143.32,418V419.40M144.32,418V419.40M145.21,418V419.40M146.00,418V420.60M151.21,418V419.40M154.25,418V419.40M156.42,418V419.40M158.09,418V419.40M159.46,418V419.40M160.62,418V419.40M161.62,418V419.40M162.51,418V419.40M163.30,418V420.60M168.51,418V419.40M171.55,418V419.40M173.72,418V419.40M175.39,418V419.40M176.76,418V419.40M177.92,418V419.40M178.92,418V419.40M179.81,418V419.40M180.60,418V420.60M185.81,418V419.40M188.85,418V419.40M191.02,418V419.40M192.69,418V419.40M194.06,418V419.40M195.22,418V419.40M196.22,418V419.40M197.11,418V419.40M197.90,418V420.60" stroke="#000" stroke-width="0.9" fill="none"/><text transform="translate(122.8,417.50) rotate(-90)" text-anchor="middle" font-size="6.5" fill="#111">0</text><text transform="translate(122.8,400.20) rotate(-90)" text-anchor="middle" font-size="6.5" fill="#111">5</text><text transform="translate(122.8,382.90) rotate(-90)" text-anchor="middle" font-size="6.5" fill="#111">10</text><text transform="translate(122.8,365.60) rotate(-90)" text-anchor="middle" font-size="6.5" fill="#111">15</text><text transform="translate(122.8,348.30) rotate(-90)" text-anchor="middle" font-size="6.5" fill="#111">20</text><text transform="translate(115.8,384.4) rotate(-90)" text-anchor="middle" font-size="7" font-weight="bold" textLength="20.8" lengthAdjust="spacingAndGlyphs" fill="#111">Counts</text><text x="130.60" y="428.7" text-anchor="end" font-size="7" fill="#111" stroke="#111" stroke-width="0.2" textLength="6.4" lengthAdjust="spacingAndGlyphs">10</text><text x="131.00" y="424.5" font-size="5.8" fill="#111" stroke="#111" stroke-width="0.15">0</text><text x="147.65" y="428.7" text-anchor="end" font-size="7" fill="#111" stroke="#111" stroke-width="0.2" textLength="6.4" lengthAdjust="spacingAndGlyphs">10</text><text x="148.05" y="424.5" font-size="5.8" fill="#111" stroke="#111" stroke-width="0.15">1</text><text x="164.70" y="428.7" text-anchor="end" font-size="7" fill="#111" stroke="#111" stroke-width="0.2" textLength="6.4" lengthAdjust="spacingAndGlyphs">10</text><text x="165.10" y="424.5" font-size="5.8" fill="#111" stroke="#111" stroke-width="0.15">2</text><text x="181.75" y="428.7" text-anchor="end" font-size="7" fill="#111" stroke="#111" stroke-width="0.2" textLength="6.4" lengthAdjust="spacingAndGlyphs">10</text><text x="182.15" y="424.5" font-size="5.8" fill="#111" stroke="#111" stroke-width="0.15">3</text><text x="198.80" y="428.7" text-anchor="end" font-size="7" fill="#111" stroke="#111" stroke-width="0.2" textLength="6.4" lengthAdjust="spacingAndGlyphs">10</text><text x="199.20" y="424.5" font-size="5.8" fill="#111" stroke="#111" stroke-width="0.15">4</text><text x="153.5" y="434.7" font-size="6.5" font-weight="bold" stroke="#111" stroke-width="0.2" textLength="17.3" lengthAdjust="spacingAndGlyphs" fill="#111">FL1-H</text><text x="164.00" y="361.80" font-size="9.6" fill="#111" stroke="#111" stroke-width="0.15" textLength="22.20" lengthAdjust="spacingAndGlyphs">1500</text></g>
<g><path d="M235.00,417.50V410.46H235.70V411.10H236.40V414.18H237.10V413.66H237.80V413.68H238.50V413.69H239.20V413.49H239.90V413.32H240.60V413.41H241.30V412.80H242.00V413.05H242.70V412.91H243.40V413.50H244.10V413.08H244.80V412.86H245.50V412.84H246.20V412.75H246.90V411.96H247.60V411.14H248.30V410.20H249.00V409.43H249.70V409.22H250.40V409.28H251.10V409.74H251.80V410.24H252.50V413.12H253.20V413.15H253.90V413.60H254.60V413.69H255.30V414.05H256.00V414.21H256.70V414.43H257.40V414.81H258.10V414.87H258.80V414.81H259.50V411.35H260.20V409.86H260.90V405.63H261.60V406.15H262.30V406.74H263.00V411.92H263.70V412.52H264.40V410.97H265.10V408.55H265.80V406.19H266.50V403.24H267.20V397.95H267.90V392.82H268.60V382.49H269.30V374.13H270.00V365.57H270.70V363.98H271.40V364.96H272.10V370.60H272.80V377.97H273.50V384.18H274.20V385.87H274.90V393.08H275.60V397.62H276.30V398.99H277.00V402.53H277.70V407.81H278.40V411.12H279.10V412.88H279.80V414.70H280.50V416.27H281.20V417.50ZM282.60,417.50V413.68H283.30V413.25H284.00V416.28H284.70V417.50ZM285.40,417.50V415.33H286.10V413.61H286.80V413.32H287.50V416.36H288.20V417.50ZM288.90,417.50V416.00H289.60V414.49H290.30V414.47H291.00V416.59H291.70V417.50Z" fill="#000"/><clipPath id="cp32"><rect x="240.5" y="348" width="6.5" height="30"/></clipPath><path d="M235.20,410.59H235.95V411.24H236.70V410.26H237.45V407.72H238.20V401.27H238.95V393.94H239.70V384.22H240.45V376.62H241.20V373.24H241.95V375.24H242.70V372.44H243.45V365.80H244.20V363.10H244.95V372.45H245.70V380.00H246.45V378.90H247.20V380.55H247.95V385.22H248.70V391.56H249.45V394.93H250.20V397.22H250.95V400.86H251.70V402.81H252.45V404.46H253.20V404.60H253.95V405.80H254.70V408.21H255.45V410.07H256.20V411.53H256.95V412.57H257.70V413.28H258.45V414.04H259.20V414.76H259.95V414.92H260.70V417.5H235.2Z" fill="#000" clip-path="url(#cp32)"/><path d="M235.20,410.59H235.95V411.24H236.70V410.26H237.45V407.72H238.20V401.27H238.95V393.94H239.70V384.22H240.45V376.62H241.20V373.24H241.95V375.24H242.70V372.44H243.45V365.80H244.20V363.10H244.95V372.45H245.70V380.00H246.45V378.90H247.20V380.55H247.95V385.22H248.70V391.56H249.45V394.93H250.20V397.22H250.95V400.86H251.70V402.81H252.45V404.46H253.20V404.60H253.95V405.80H254.70V408.21H255.45V410.07H256.20V411.53H256.95V412.57H257.70V413.28H258.45V414.04H259.20V414.76H259.95V414.92H260.70" fill="none" stroke="#000" stroke-width="1.9"/><rect x="233.8" y="347.8" width="1.5" height="70.4" fill="#000"/><rect x="234" y="347.8" width="70.8" height="1" fill="#000"/><rect x="303.8" y="347.8" width="1" height="70.4" fill="#000"/><rect x="234" y="416.8" width="70.8" height="1.4" fill="#000"/><path d="M231.20,417.50H234M232.40,414.04H234M232.40,410.58H234M232.40,407.12H234M232.40,403.66H234M231.20,400.20H234M232.40,396.74H234M232.40,393.28H234M232.40,389.82H234M232.40,386.36H234M231.20,382.90H234M232.40,379.44H234M232.40,375.98H234M232.40,372.52H234M232.40,369.06H234M231.20,365.60H234M232.40,362.14H234M232.40,358.68H234M232.40,355.22H234M232.40,351.76H234M231.20,348.30H234M234.70,418V420.60M239.91,418V419.40M242.95,418V419.40M245.12,418V419.40M246.79,418V419.40M248.16,418V419.40M249.32,418V419.40M250.32,418V419.40M251.21,418V419.40M252.00,418V420.60M257.21,418V419.40M260.25,418V419.40M262.42,418V419.40M264.09,418V419.40M265.46,418V419.40M266.62,418V419.40M267.62,418V419.40M268.51,418V419.40M269.30,418V420.60M274.51,418V419.40M277.55,418V419.40M279.72,418V419.40M281.39,418V419.40M282.76,418V419.40M283.92,418V419.40M284.92,418V419.40M285.81,418V419.40M286.60,418V420.60M291.81,418V419.40M294.85,418V419.40M297.02,418V419.40M298.69,418V419.40M300.06,418V419.40M301.22,418V419.40M302.22,418V419.40M303.11,418V419.40M303.90,418V420.60" stroke="#000" stroke-width="0.9" fill="none"/><text transform="translate(228.8,417.50) rotate(-90)" text-anchor="middle" font-size="6.5" fill="#111">0</text><text transform="translate(228.8,400.20) rotate(-90)" text-anchor="middle" font-size="6.5" fill="#111">5</text><text transform="translate(228.8,382.90) rotate(-90)" text-anchor="middle" font-size="6.5" fill="#111">10</text><text transform="translate(228.8,365.60) rotate(-90)" text-anchor="middle" font-size="6.5" fill="#111">15</text><text transform="translate(228.8,348.30) rotate(-90)" text-anchor="middle" font-size="6.5" fill="#111">20</text><text transform="translate(221.8,384.4) rotate(-90)" text-anchor="middle" font-size="7" font-weight="bold" textLength="20.8" lengthAdjust="spacingAndGlyphs" fill="#111">Counts</text><text x="236.60" y="428.7" text-anchor="end" font-size="7" fill="#111" stroke="#111" stroke-width="0.2" textLength="6.4" lengthAdjust="spacingAndGlyphs">10</text><text x="237.00" y="424.5" font-size="5.8" fill="#111" stroke="#111" stroke-width="0.15">0</text><text x="253.65" y="428.7" text-anchor="end" font-size="7" fill="#111" stroke="#111" stroke-width="0.2" textLength="6.4" lengthAdjust="spacingAndGlyphs">10</text><text x="254.05" y="424.5" font-size="5.8" fill="#111" stroke="#111" stroke-width="0.15">1</text><text x="270.70" y="428.7" text-anchor="end" font-size="7" fill="#111" stroke="#111" stroke-width="0.2" textLength="6.4" lengthAdjust="spacingAndGlyphs">10</text><text x="271.10" y="424.5" font-size="5.8" fill="#111" stroke="#111" stroke-width="0.15">2</text><text x="287.75" y="428.7" text-anchor="end" font-size="7" fill="#111" stroke="#111" stroke-width="0.2" textLength="6.4" lengthAdjust="spacingAndGlyphs">10</text><text x="288.15" y="424.5" font-size="5.8" fill="#111" stroke="#111" stroke-width="0.15">3</text><text x="304.80" y="428.7" text-anchor="end" font-size="7" fill="#111" stroke="#111" stroke-width="0.2" textLength="6.4" lengthAdjust="spacingAndGlyphs">10</text><text x="305.20" y="424.5" font-size="5.8" fill="#111" stroke="#111" stroke-width="0.15">4</text><text x="259.5" y="434.7" font-size="6.5" font-weight="bold" stroke="#111" stroke-width="0.2" textLength="17.3" lengthAdjust="spacingAndGlyphs" fill="#111">FL2-H</text><text x="282.90" y="361.80" font-size="9.6" fill="#111" stroke="#111" stroke-width="0.15" textLength="16.80" lengthAdjust="spacingAndGlyphs">145</text></g>
<g><path d="M341.00,417.50V380.03H341.70V381.42H342.40V405.59H343.10V409.70H343.80V403.41H344.50V395.45H345.20V384.36H345.90V375.36H346.60V362.24H347.30V350.08H348.00V350.19H348.70V350.44H349.40V350.14H350.10V350.19H350.80V350.14H351.50V349.72H352.20V353.44H352.90V357.73H353.60V358.43H354.30V360.92H355.00V370.30H355.70V382.07H356.40V387.64H357.10V392.31H357.80V395.49H358.50V398.90H359.20V401.21H359.90V404.59H360.60V405.10H361.30V404.18H362.00V406.38H362.70V407.20H363.40V407.18H364.10V405.79H364.80V406.93H365.50V404.28H366.20V407.71H366.90V407.75H367.60V407.19H368.30V410.35H369.00V409.79H369.70V408.78H370.40V408.95H371.10V411.31H371.80V413.27H372.50V413.37H373.20V413.64H373.90V413.29H374.60V413.26H375.30V413.85H376.00V414.81H376.70V415.18H377.40V416.08H378.10V416.83H378.80V417.50ZM386.50,417.50V414.96H387.20V413.59H387.90V413.35H388.60V417.17H389.30V417.50Z" fill="#000"/><rect x="339.8" y="347.8" width="1.5" height="70.4" fill="#000"/><rect x="340" y="347.8" width="70.8" height="1" fill="#000"/><rect x="409.8" y="347.8" width="1" height="70.4" fill="#000"/><rect x="340" y="416.8" width="70.8" height="1.4" fill="#000"/><path d="M337.20,417.50H340M338.40,414.04H340M338.40,410.58H340M338.40,407.12H340M338.40,403.66H340M337.20,400.20H340M338.40,396.74H340M338.40,393.28H340M338.40,389.82H340M338.40,386.36H340M337.20,382.90H340M338.40,379.44H340M338.40,375.98H340M338.40,372.52H340M338.40,369.06H340M337.20,365.60H340M338.40,362.14H340M338.40,358.68H340M338.40,355.22H340M338.40,351.76H340M337.20,348.30H340M340.70,418V420.60M345.91,418V419.40M348.95,418V419.40M351.12,418V419.40M352.79,418V419.40M354.16,418V419.40M355.32,418V419.40M356.32,418V419.40M357.21,418V419.40M358.00,418V420.60M363.21,418V419.40M366.25,418V419.40M368.42,418V419.40M370.09,418V419.40M371.46,418V419.40M372.62,418V419.40M373.62,418V419.40M374.51,418V419.40M375.30,418V420.60M380.51,418V419.40M383.55,418V419.40M385.72,418V419.40M387.39,418V419.40M388.76,418V419.40M389.92,418V419.40M390.92,418V419.40M391.81,418V419.40M392.60,418V420.60M397.81,418V419.40M400.85,418V419.40M403.02,418V419.40M404.69,418V419.40M406.06,418V419.40M407.22,418V419.40M408.22,418V419.40M409.11,418V419.40M409.90,418V420.60" stroke="#000" stroke-width="0.9" fill="none"/><text transform="translate(334.8,417.50) rotate(-90)" text-anchor="middle" font-size="6.5" fill="#111">0</text><text transform="translate(334.8,400.20) rotate(-90)" text-anchor="middle" font-size="6.5" fill="#111">5</text><text transform="translate(334.8,382.90) rotate(-90)" text-anchor="middle" font-size="6.5" fill="#111">10</text><text transform="translate(334.8,365.60) rotate(-90)" text-anchor="middle" font-size="6.5" fill="#111">15</text><text transform="translate(334.8,348.30) rotate(-90)" text-anchor="middle" font-size="6.5" fill="#111">20</text><text transform="translate(327.8,384.4) rotate(-90)" text-anchor="middle" font-size="7" font-weight="bold" textLength="20.8" lengthAdjust="spacingAndGlyphs" fill="#111">Counts</text><text x="342.60" y="428.7" text-anchor="end" font-size="7" fill="#111" stroke="#111" stroke-width="0.2" textLength="6.4" lengthAdjust="spacingAndGlyphs">10</text><text x="343.00" y="424.5" font-size="5.8" fill="#111" stroke="#111" stroke-width="0.15">0</text><text x="359.65" y="428.7" text-anchor="end" font-size="7" fill="#111" stroke="#111" stroke-width="0.2" textLength="6.4" lengthAdjust="spacingAndGlyphs">10</text><text x="360.05" y="424.5" font-size="5.8" fill="#111" stroke="#111" stroke-width="0.15">1</text><text x="376.70" y="428.7" text-anchor="end" font-size="7" fill="#111" stroke="#111" stroke-width="0.2" textLength="6.4" lengthAdjust="spacingAndGlyphs">10</text><text x="377.10" y="424.5" font-size="5.8" fill="#111" stroke="#111" stroke-width="0.15">2</text><text x="393.75" y="428.7" text-anchor="end" font-size="7" fill="#111" stroke="#111" stroke-width="0.2" textLength="6.4" lengthAdjust="spacingAndGlyphs">10</text><text x="394.15" y="424.5" font-size="5.8" fill="#111" stroke="#111" stroke-width="0.15">3</text><text x="410.80" y="428.7" text-anchor="end" font-size="7" fill="#111" stroke="#111" stroke-width="0.2" textLength="6.4" lengthAdjust="spacingAndGlyphs">10</text><text x="411.20" y="424.5" font-size="5.8" fill="#111" stroke="#111" stroke-width="0.15">4</text><text x="365.5" y="434.7" font-size="6.5" font-weight="bold" stroke="#111" stroke-width="0.2" textLength="17.3" lengthAdjust="spacingAndGlyphs" fill="#111">FL2-H</text><text x="401.00" y="362.80" font-size="9.6" fill="#111" stroke="#111" stroke-width="0.15" textLength="5.90" lengthAdjust="spacingAndGlyphs">7</text></g>
<g><rect x="45.5" y="476.4" width="137.3" height="133.80000000000007" fill="none" stroke="#999" stroke-width="1.3"/><text x="38.0" y="614.00" text-anchor="end" font-size="10.5" fill="#222" stroke="#222" stroke-width="0.3">0</text><text x="38.0" y="587.24" text-anchor="end" font-size="10.5" fill="#222" stroke="#222" stroke-width="0.3">20</text><text x="38.0" y="560.48" text-anchor="end" font-size="10.5" fill="#222" stroke="#222" stroke-width="0.3">40</text><text x="38.0" y="533.72" text-anchor="end" font-size="10.5" fill="#222" stroke="#222" stroke-width="0.3">60</text><text x="38.0" y="506.96" text-anchor="end" font-size="10.5" fill="#222" stroke="#222" stroke-width="0.3">80</text><text x="38.0" y="480.20" text-anchor="end" font-size="10.5" fill="#222" stroke="#222" stroke-width="0.3">100</text><text x="63.70" y="631" text-anchor="middle" font-size="10.5" fill="#222" stroke="#222" stroke-width="0.3">40:1</text><text x="97.90" y="631" text-anchor="middle" font-size="10.5" fill="#222" stroke="#222" stroke-width="0.3">20:1</text><text x="132.30" y="631" text-anchor="middle" font-size="10.5" fill="#222" stroke="#222" stroke-width="0.3">10:1</text><text x="166.30" y="631" text-anchor="middle" font-size="10.5" fill="#222" stroke="#222" stroke-width="0.3">5:1</text><circle cx="62.90" cy="549.99" r="2.6" fill="#000"/><circle cx="97.10" cy="551.33" r="2.6" fill="#000"/><circle cx="131.50" cy="558.02" r="2.6" fill="#000"/><circle cx="165.50" cy="559.36" r="2.6" fill="#000"/><rect x="60.40" y="580.94" width="5" height="5" fill="#000"/><rect x="94.60" y="586.29" width="5" height="5" fill="#000"/><rect x="129.00" y="586.29" width="5" height="5" fill="#000"/><rect x="163.00" y="591.64" width="5" height="5" fill="#000"/><circle cx="62.90" cy="594.14" r="2.1" fill="none" stroke="#444" stroke-width="0.8"/><circle cx="97.10" cy="597.76" r="2.1" fill="none" stroke="#444" stroke-width="0.8"/><circle cx="131.50" cy="600.83" r="2.1" fill="none" stroke="#444" stroke-width="0.8"/><circle cx="165.50" cy="600.83" r="2.1" fill="none" stroke="#444" stroke-width="0.8"/><rect x="60.60" y="598.53" width="4.6" height="4.6" fill="none" stroke="#444" stroke-width="0.8"/><rect x="94.80" y="600.14" width="4.6" height="4.6" fill="none" stroke="#444" stroke-width="0.8"/><rect x="129.20" y="605.22" width="4.6" height="4.6" fill="none" stroke="#444" stroke-width="0.8"/><rect x="163.20" y="605.22" width="4.6" height="4.6" fill="none" stroke="#444" stroke-width="0.8"/><polyline points="62.90,549.99 97.10,551.33 131.50,558.02 165.50,559.36" fill="none" stroke="#888" stroke-width="1.3"/><polyline points="62.90,583.44 97.10,588.79 131.50,588.79 165.50,594.14" fill="none" stroke="#888" stroke-width="1.3"/><polyline points="62.90,594.14 97.10,597.76 131.50,600.83 165.50,600.83" fill="none" stroke="#888" stroke-width="1.3"/><polyline points="62.90,600.83 97.10,602.44 131.50,607.52 165.50,607.52" fill="none" stroke="#888" stroke-width="1.3"/><text x="2.2" y="467.8" font-size="21.6" font-weight="bold" fill="#000" textLength="14.4" lengthAdjust="spacingAndGlyphs">B</text><text transform="translate(13.0,603.3) rotate(-90)" font-size="12" font-weight="bold" fill="#111" textLength="9.8" lengthAdjust="spacingAndGlyphs">%</text><text transform="translate(13.0,590.7) rotate(-90)" font-size="12" font-weight="bold" fill="#111" textLength="44.5" lengthAdjust="spacingAndGlyphs">specific</text><text transform="translate(8.0,543.3) rotate(-90)" font-size="7.6" font-weight="bold" fill="#111" textLength="8.8" lengthAdjust="spacingAndGlyphs">51</text><text transform="translate(13.0,532.4) rotate(-90)" font-size="12" font-weight="bold" fill="#111" textLength="9.8" lengthAdjust="spacingAndGlyphs">Cr</text><text transform="translate(13.0,519.4) rotate(-90)" font-size="12" font-weight="bold" fill="#111" textLength="42.6" lengthAdjust="spacingAndGlyphs">release</text></g>
<g><rect x="261.6" y="476.3" width="126.69999999999999" height="134.2" fill="none" stroke="#999" stroke-width="1.3"/><text x="254.0" y="614.30" text-anchor="end" font-size="10.5" fill="#222" stroke="#222" stroke-width="0.3">0</text><text x="254.0" y="587.46" text-anchor="end" font-size="10.5" fill="#222" stroke="#222" stroke-width="0.3">20</text><text x="254.0" y="560.62" text-anchor="end" font-size="10.5" fill="#222" stroke="#222" stroke-width="0.3">40</text><text x="254.0" y="533.78" text-anchor="end" font-size="10.5" fill="#222" stroke="#222" stroke-width="0.3">60</text><text x="254.0" y="506.94" text-anchor="end" font-size="10.5" fill="#222" stroke="#222" stroke-width="0.3">80</text><text x="254.0" y="480.10" text-anchor="end" font-size="10.5" fill="#222" stroke="#222" stroke-width="0.3">100</text><text x="279.50" y="631" text-anchor="middle" font-size="10.5" fill="#222" stroke="#222" stroke-width="0.3">40:1</text><text x="314.20" y="631" text-anchor="middle" font-size="10.5" fill="#222" stroke="#222" stroke-width="0.3">20:1</text><text x="348.80" y="631" text-anchor="middle" font-size="10.5" fill="#222" stroke="#222" stroke-width="0.3">10:1</text><text x="383.70" y="631" text-anchor="middle" font-size="10.5" fill="#222" stroke="#222" stroke-width="0.3">5:1</text><rect x="276.40" y="480.71" width="4.6" height="4.6" fill="none" stroke="#444" stroke-width="0.8"/><rect x="311.10" y="486.08" width="4.6" height="4.6" fill="none" stroke="#444" stroke-width="0.8"/><rect x="345.70" y="503.52" width="4.6" height="4.6" fill="none" stroke="#444" stroke-width="0.8"/><rect x="380.60" y="519.63" width="4.6" height="4.6" fill="none" stroke="#444" stroke-width="0.8"/><circle cx="278.70" cy="503.14" r="2.1" fill="none" stroke="#444" stroke-width="0.8"/><circle cx="313.40" cy="524.61" r="2.1" fill="none" stroke="#444" stroke-width="0.8"/><circle cx="348.00" cy="538.03" r="2.1" fill="none" stroke="#444" stroke-width="0.8"/><circle cx="382.90" cy="556.82" r="2.1" fill="none" stroke="#444" stroke-width="0.8"/><circle cx="278.70" cy="483.01" r="2.6" fill="#000"/><circle cx="313.40" cy="487.71" r="2.6" fill="#000"/><circle cx="348.00" cy="485.69" r="2.6" fill="#000"/><circle cx="382.90" cy="496.43" r="2.6" fill="#000"/><rect x="276.20" y="480.51" width="5" height="5" fill="#000"/><rect x="310.90" y="481.85" width="5" height="5" fill="#000"/><rect x="345.50" y="482.52" width="5" height="5" fill="#000"/><rect x="380.40" y="492.59" width="5" height="5" fill="#000"/><rect x="276.20" y="480.51" width="5" height="5" fill="#000"/><rect x="310.90" y="480.51" width="5" height="5" fill="#000"/><rect x="345.50" y="480.51" width="5" height="5" fill="#000"/><rect x="380.40" y="489.50" width="5" height="5" fill="#000"/><polyline points="278.70,483.01 313.40,488.38 348.00,505.82 382.90,521.93" fill="none" stroke="#4a4a4a" stroke-width="1.0"/><polyline points="278.70,503.14 313.40,524.61 348.00,538.03 382.90,556.82" fill="none" stroke="#4a4a4a" stroke-width="1.0"/><polyline points="278.70,483.01 313.40,487.71 348.00,485.69 382.90,496.43" fill="none" stroke="#4a4a4a" stroke-width="1.0"/><polyline points="278.70,483.01 313.40,484.35 348.00,485.02 382.90,495.09" fill="none" stroke="#4a4a4a" stroke-width="1.0"/><polyline points="278.70,483.01 313.40,483.01 348.00,483.01 382.90,492.00" fill="none" stroke="#4a4a4a" stroke-width="1.0"/><text x="215.8" y="467.8" font-size="21.6" font-weight="bold" fill="#000" textLength="15.0" lengthAdjust="spacingAndGlyphs">C</text><text transform="translate(229.4,604.5) rotate(-90)" font-size="12" font-weight="bold" fill="#111" textLength="9.8" lengthAdjust="spacingAndGlyphs">%</text><text transform="translate(229.4,591.9) rotate(-90)" font-size="12" font-weight="bold" fill="#111" textLength="44.5" lengthAdjust="spacingAndGlyphs">specific</text><text transform="translate(224.4,544.5) rotate(-90)" font-size="7.6" font-weight="bold" fill="#111" textLength="8.8" lengthAdjust="spacingAndGlyphs">51</text><text transform="translate(229.4,533.6) rotate(-90)" font-size="12" font-weight="bold" fill="#111" textLength="9.8" lengthAdjust="spacingAndGlyphs">Cr</text><text transform="translate(229.4,520.6) rotate(-90)" font-size="12" font-weight="bold" fill="#111" textLength="42.6" lengthAdjust="spacingAndGlyphs">release</text></g>
</svg></body></html>
